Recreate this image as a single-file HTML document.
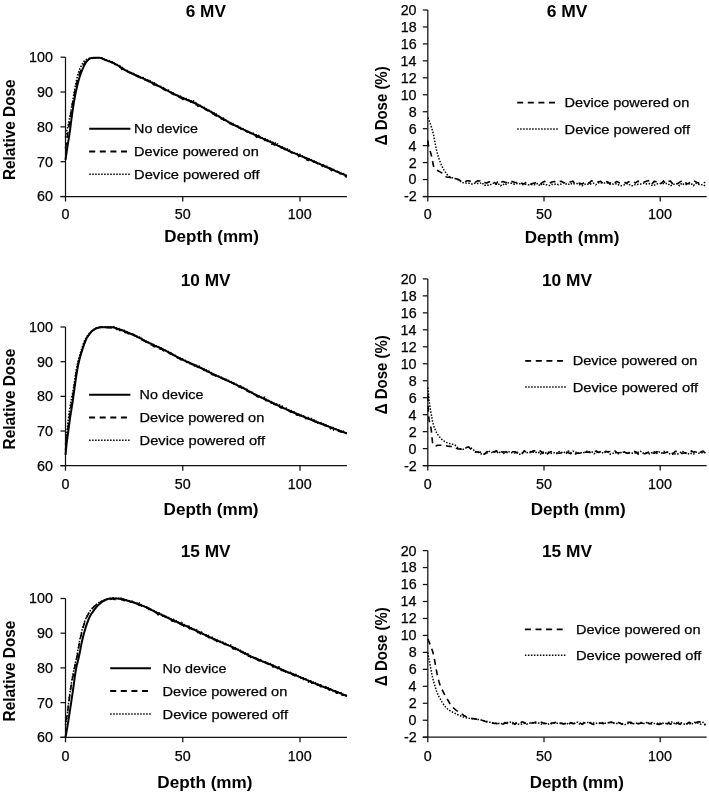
<!DOCTYPE html>
<html><head><meta charset="utf-8"><style>
html,body{margin:0;padding:0;background:#fff;}
svg{display:block;filter:grayscale(100%) blur(0.3px);}
text{font-family:"Liberation Sans", sans-serif;}
</style></head><body>
<svg width="709" height="794" viewBox="0 0 709 794">
<rect width="709" height="794" fill="#fff"/>
<line x1="65.50" y1="57.20" x2="65.50" y2="201.50" stroke="#111" stroke-width="1.25" />
<line x1="60.50" y1="196.50" x2="346.90" y2="196.50" stroke="#111" stroke-width="1.25" />
<line x1="60.50" y1="196.50" x2="65.50" y2="196.50" stroke="#111" stroke-width="1.25" />
<text x="36.96" y="201.42" font-size="14.3" font-weight="normal" textLength="15.91" lengthAdjust="spacingAndGlyphs" fill="#000" stroke="#000" stroke-width="0.25">60</text>
<line x1="60.50" y1="161.68" x2="65.50" y2="161.68" stroke="#111" stroke-width="1.25" />
<text x="36.96" y="166.59" font-size="14.3" font-weight="normal" textLength="15.91" lengthAdjust="spacingAndGlyphs" fill="#000" stroke="#000" stroke-width="0.25">70</text>
<line x1="60.50" y1="126.85" x2="65.50" y2="126.85" stroke="#111" stroke-width="1.25" />
<text x="36.96" y="131.77" font-size="14.3" font-weight="normal" textLength="15.91" lengthAdjust="spacingAndGlyphs" fill="#000" stroke="#000" stroke-width="0.25">80</text>
<line x1="60.50" y1="92.02" x2="65.50" y2="92.02" stroke="#111" stroke-width="1.25" />
<text x="36.96" y="96.94" font-size="14.3" font-weight="normal" textLength="15.91" lengthAdjust="spacingAndGlyphs" fill="#000" stroke="#000" stroke-width="0.25">90</text>
<line x1="60.50" y1="57.20" x2="65.50" y2="57.20" stroke="#111" stroke-width="1.25" />
<text x="29.01" y="62.12" font-size="14.3" font-weight="normal" textLength="23.86" lengthAdjust="spacingAndGlyphs" fill="#000" stroke="#000" stroke-width="0.25">100</text>
<line x1="182.75" y1="196.50" x2="182.75" y2="201.50" stroke="#111" stroke-width="1.25" />
<line x1="300.00" y1="196.50" x2="300.00" y2="201.50" stroke="#111" stroke-width="1.25" />
<text x="61.52" y="218.90" font-size="14.3" font-weight="normal" textLength="7.95" lengthAdjust="spacingAndGlyphs" fill="#000" stroke="#000" stroke-width="0.25">0</text>
<text x="174.79" y="218.90" font-size="14.3" font-weight="normal" textLength="15.91" lengthAdjust="spacingAndGlyphs" fill="#000" stroke="#000" stroke-width="0.25">50</text>
<text x="287.81" y="218.90" font-size="14.3" font-weight="normal" textLength="23.86" lengthAdjust="spacingAndGlyphs" fill="#000" stroke="#000" stroke-width="0.25">100</text>
<path d="M65.50,159.93 L66.67,151.78 L67.84,143.97 L69.02,137.14 L70.19,128.76 L71.36,119.66 L72.53,111.30 L73.71,103.55 L74.88,96.84 L76.05,90.98 L77.22,85.78 L78.40,81.12 L79.57,77.07 L80.74,73.64 L81.92,70.68 L83.09,67.97 L84.26,65.41 L85.43,63.28 L86.61,61.57 L87.78,60.20 L88.95,59.17 L90.12,58.40 L91.30,58.12 L92.47,57.94 L93.64,57.82 L94.81,57.74 L95.98,57.72 L97.16,57.73 L98.33,57.76 L99.50,57.81 L100.68,57.88 L101.85,58.19 L103.02,58.88 L104.19,59.42 L105.37,59.93 L106.54,60.41 L107.71,60.86 L108.88,61.26 L110.06,61.61 L111.23,61.99 L112.40,62.46 L113.57,63.02 L114.75,63.63 L115.92,64.30 L117.09,65.01 L118.26,65.75 L119.44,66.51 L120.61,67.28 L121.78,68.05 L122.95,68.81 L124.12,69.54 L125.30,70.23 L126.47,70.89 L127.64,71.49 L128.81,72.06 L129.99,72.62 L131.16,73.17 L132.33,73.70 L133.50,74.22 L134.68,74.74 L135.85,75.25 L137.02,75.75 L138.19,76.26 L139.37,76.77 L140.54,77.29 L141.71,77.82 L142.88,78.35 L144.06,78.90 L145.23,79.46 L146.40,80.03 L147.57,80.60 L148.75,81.17 L149.92,81.75 L151.09,82.33 L152.26,82.91 L153.44,83.50 L154.61,84.08 L155.78,84.67 L156.96,85.26 L158.13,85.85 L159.30,86.44 L160.47,87.03 L161.65,87.62 L162.82,88.22 L163.99,88.83 L165.16,89.43 L166.34,90.05 L167.51,90.66 L168.68,91.27 L169.85,91.88 L171.03,92.49 L172.20,93.09 L173.37,93.68 L174.54,94.27 L175.72,94.85 L176.89,95.41 L178.06,95.97 L179.23,96.50 L180.41,97.02 L181.58,97.53 L182.75,98.03 L183.92,98.52 L185.10,99.00 L186.27,99.49 L187.44,99.97 L188.61,100.46 L189.79,100.95 L190.96,101.46 L192.13,101.98 L193.30,102.51 L194.48,103.06 L195.65,103.62 L196.82,104.21 L197.99,104.81 L199.17,105.42 L200.34,106.04 L201.51,106.67 L202.68,107.31 L203.86,107.95 L205.03,108.60 L206.20,109.25 L207.37,109.91 L208.55,110.57 L209.72,111.22 L210.89,111.88 L212.06,112.53 L213.24,113.20 L214.41,113.88 L215.58,114.56 L216.75,115.25 L217.93,115.95 L219.10,116.64 L220.27,117.34 L221.44,118.03 L222.62,118.72 L223.79,119.40 L224.96,120.08 L226.13,120.74 L227.31,121.40 L228.48,122.04 L229.65,122.67 L230.82,123.29 L232.00,123.90 L233.17,124.50 L234.34,125.09 L235.51,125.67 L236.69,126.26 L237.86,126.83 L239.03,127.40 L240.20,127.97 L241.38,128.53 L242.55,129.09 L243.72,129.65 L244.89,130.20 L246.07,130.76 L247.24,131.31 L248.41,131.87 L249.58,132.42 L250.76,132.98 L251.93,133.52 L253.10,134.07 L254.27,134.61 L255.45,135.15 L256.62,135.68 L257.79,136.22 L258.96,136.75 L260.13,137.28 L261.31,137.81 L262.48,138.35 L263.65,138.88 L264.83,139.42 L266.00,139.95 L267.17,140.49 L268.34,141.04 L269.51,141.59 L270.69,142.14 L271.86,142.70 L273.03,143.26 L274.21,143.83 L275.38,144.40 L276.55,144.97 L277.72,145.54 L278.89,146.11 L280.07,146.68 L281.24,147.25 L282.41,147.81 L283.59,148.37 L284.76,148.93 L285.93,149.48 L287.10,150.03 L288.27,150.56 L289.45,151.09 L290.62,151.61 L291.79,152.12 L292.97,152.63 L294.14,153.13 L295.31,153.63 L296.48,154.12 L297.66,154.62 L298.83,155.10 L300.00,155.59 L301.17,156.08 L302.35,156.57 L303.52,157.06 L304.69,157.55 L305.86,158.04 L307.04,158.54 L308.21,159.04 L309.38,159.54 L310.55,160.05 L311.73,160.55 L312.90,161.06 L314.07,161.57 L315.24,162.09 L316.42,162.60 L317.59,163.11 L318.76,163.62 L319.93,164.14 L321.11,164.65 L322.28,165.17 L323.45,165.68 L324.62,166.20 L325.80,166.71 L326.97,167.22 L328.14,167.74 L329.31,168.25 L330.49,168.76 L331.66,169.28 L332.83,169.79 L334.00,170.30 L335.18,170.82 L336.35,171.33 L337.52,171.84 L338.69,172.36 L339.87,172.87 L341.04,173.38 L342.21,173.90 L343.38,174.41 L344.56,174.93 L345.73,175.44 L346.90,175.95" fill="none" stroke="#000" stroke-width="2.0" stroke-linejoin="round"/>
<path d="M65.50,148.44 L66.67,140.59 L67.84,132.92 L69.02,125.32 L70.19,117.63 L71.36,110.33 L72.53,103.47 L73.71,97.21 L74.88,91.47 L76.05,86.10 L77.22,81.18 L78.40,76.87 L79.57,73.16 L80.74,70.25 L81.92,67.83 L83.09,65.67 L84.26,63.69 L85.43,62.08 L86.61,60.79 L87.78,59.74 L88.95,59.05 L90.12,58.52 L91.30,58.16 L92.47,57.98 L93.64,57.85 L94.81,57.78 L95.98,57.77 L97.16,57.81 L98.33,57.86 L99.50,57.94 L100.68,58.03 L101.85,58.37 L103.02,59.02 L104.19,59.59 L105.37,60.16 L106.54,60.65 L107.71,61.19 L108.88,61.43 L110.06,62.19 L111.23,62.46 L112.40,62.80 L113.57,62.92 L114.75,64.32 L115.92,65.14 L117.09,65.72 L118.26,65.87 L119.44,67.11 L120.61,67.20 L121.78,69.43 L122.95,68.75 L124.12,69.50 L125.30,71.48 L126.47,71.30 L127.64,71.35 L128.81,72.52 L129.99,72.60 L131.16,72.43 L132.33,74.06 L133.50,74.87 L134.68,75.64 L135.85,75.41 L137.02,76.36 L138.19,76.85 L139.37,77.33 L140.54,77.45 L141.71,78.87 L142.88,79.65 L144.06,80.67 L145.23,79.34 L146.40,80.49 L147.57,80.31 L148.75,81.67 L149.92,82.63 L151.09,82.58 L152.26,83.45 L153.44,84.65 L154.61,85.05 L155.78,84.25 L156.96,85.58 L158.13,86.14 L159.30,87.09 L160.47,87.89 L161.65,87.66 L162.82,88.78 L163.99,89.72 L165.16,90.00 L166.34,91.02 L167.51,91.06 L168.68,91.18 L169.85,92.82 L171.03,92.24 L172.20,93.94 L173.37,94.10 L174.54,95.21 L175.72,95.46 L176.89,95.89 L178.06,96.69 L179.23,97.37 L180.41,97.88 L181.58,98.46 L182.75,99.35 L183.92,99.15 L185.10,99.29 L186.27,99.51 L187.44,100.13 L188.61,99.68 L189.79,101.29 L190.96,102.20 L192.13,101.50 L193.30,103.55 L194.48,103.05 L195.65,104.62 L196.82,104.52 L197.99,106.33 L199.17,105.45 L200.34,106.62 L201.51,107.67 L202.68,106.93 L203.86,108.05 L205.03,109.08 L206.20,110.14 L207.37,110.43 L208.55,111.15 L209.72,111.34 L210.89,111.96 L212.06,113.38 L213.24,113.99 L214.41,114.66 L215.58,115.77 L216.75,116.06 L217.93,116.49 L219.10,116.78 L220.27,117.15 L221.44,118.95 L222.62,118.93 L223.79,120.13 L224.96,119.49 L226.13,121.27 L227.31,121.64 L228.48,123.03 L229.65,123.59 L230.82,123.68 L232.00,124.60 L233.17,124.81 L234.34,126.40 L235.51,125.83 L236.69,127.22 L237.86,126.43 L239.03,128.05 L240.20,127.89 L241.38,129.76 L242.55,129.37 L243.72,130.61 L244.89,130.96 L246.07,131.25 L247.24,131.98 L248.41,132.23 L249.58,132.53 L250.76,133.13 L251.93,134.07 L253.10,135.28 L254.27,135.53 L255.45,135.75 L256.62,137.29 L257.79,136.32 L258.96,137.38 L260.13,137.91 L261.31,137.82 L262.48,138.50 L263.65,139.27 L264.83,140.44 L266.00,140.29 L267.17,140.81 L268.34,142.00 L269.51,141.54 L270.69,142.37 L271.86,144.23 L273.03,143.70 L274.21,144.99 L275.38,144.30 L276.55,145.05 L277.72,146.62 L278.89,147.07 L280.07,147.13 L281.24,147.87 L282.41,147.52 L283.59,148.49 L284.76,149.58 L285.93,149.68 L287.10,151.59 L288.27,150.90 L289.45,151.14 L290.62,152.20 L291.79,152.99 L292.97,152.83 L294.14,152.61 L295.31,154.02 L296.48,155.21 L297.66,154.36 L298.83,156.59 L300.00,155.83 L301.17,156.88 L302.35,156.58 L303.52,158.00 L304.69,157.35 L305.86,158.38 L307.04,159.94 L308.21,160.57 L309.38,160.21 L310.55,159.87 L311.73,160.99 L312.90,161.53 L314.07,162.20 L315.24,162.20 L316.42,162.90 L317.59,163.46 L318.76,164.64 L319.93,164.02 L321.11,164.44 L322.28,166.35 L323.45,164.98 L324.62,166.32 L325.80,167.47 L326.97,168.72 L328.14,167.90 L329.31,168.46 L330.49,169.58 L331.66,170.71 L332.83,169.70 L334.00,171.11 L335.18,171.56 L336.35,170.34 L337.52,171.23 L338.69,172.36 L339.87,173.61 L341.04,173.54 L342.21,175.59 L343.38,174.86 L344.56,175.82 L345.73,176.61 L346.90,177.28" fill="none" stroke="#000" stroke-width="1.6" stroke-dasharray="6 4.6" stroke-linejoin="round"/>
<path d="M65.50,137.30 L66.67,131.42 L67.84,126.38 L69.02,121.12 L70.19,115.05 L71.36,108.59 L72.53,101.78 L73.71,94.93 L74.88,88.41 L76.05,82.20 L77.22,76.94 L78.40,72.54 L79.57,69.37 L80.74,66.88 L81.92,64.70 L83.09,62.60 L84.26,60.95 L85.43,60.03 L86.61,59.41 L87.78,58.94 L88.95,58.49 L90.12,58.10 L91.30,57.90 L92.47,57.82 L93.64,57.77 L94.81,57.71 L95.98,57.67 L97.16,57.66 L98.33,57.66 L99.50,57.69 L100.68,57.73 L101.85,58.03 L103.02,58.63 L104.19,59.15 L105.37,59.67 L106.54,60.05 L107.71,61.00 L108.88,60.75 L110.06,61.46 L111.23,62.00 L112.40,61.99 L113.57,62.39 L114.75,63.32 L115.92,64.19 L117.09,64.50 L118.26,65.27 L119.44,65.43 L120.61,66.45 L121.78,67.46 L122.95,67.76 L124.12,69.15 L125.30,70.22 L126.47,70.08 L127.64,70.68 L128.81,71.68 L129.99,72.53 L131.16,72.55 L132.33,74.50 L133.50,73.36 L134.68,73.98 L135.85,75.60 L137.02,75.22 L138.19,76.26 L139.37,75.88 L140.54,77.85 L141.71,77.79 L142.88,77.48 L144.06,77.80 L145.23,80.09 L146.40,79.79 L147.57,79.92 L148.75,80.99 L149.92,80.42 L151.09,82.45 L152.26,82.23 L153.44,83.54 L154.61,82.85 L155.78,84.18 L156.96,84.96 L158.13,86.25 L159.30,85.06 L160.47,86.14 L161.65,86.73 L162.82,87.13 L163.99,88.14 L165.16,89.27 L166.34,89.96 L167.51,90.58 L168.68,90.05 L169.85,92.14 L171.03,92.30 L172.20,92.76 L173.37,93.07 L174.54,93.47 L175.72,95.00 L176.89,95.82 L178.06,95.47 L179.23,95.37 L180.41,96.13 L181.58,96.92 L182.75,97.69 L183.92,97.86 L185.10,98.63 L186.27,98.56 L187.44,99.89 L188.61,99.89 L189.79,100.51 L190.96,100.68 L192.13,101.36 L193.30,100.68 L194.48,101.77 L195.65,102.34 L196.82,104.77 L197.99,104.48 L199.17,105.23 L200.34,105.26 L201.51,107.36 L202.68,106.19 L203.86,106.89 L205.03,108.78 L206.20,109.27 L207.37,109.83 L208.55,110.04 L209.72,110.39 L210.89,110.31 L212.06,112.14 L213.24,112.30 L214.41,113.30 L215.58,113.14 L216.75,114.36 L217.93,114.73 L219.10,116.70 L220.27,116.94 L221.44,117.95 L222.62,117.43 L223.79,118.56 L224.96,119.74 L226.13,120.48 L227.31,120.65 L228.48,121.91 L229.65,122.66 L230.82,122.54 L232.00,122.11 L233.17,124.12 L234.34,124.88 L235.51,125.79 L236.69,126.45 L237.86,126.06 L239.03,126.46 L240.20,127.46 L241.38,127.86 L242.55,128.53 L243.72,129.07 L244.89,130.50 L246.07,130.50 L247.24,130.75 L248.41,131.78 L249.58,132.17 L250.76,132.90 L251.93,133.20 L253.10,133.12 L254.27,134.32 L255.45,134.73 L256.62,134.76 L257.79,135.38 L258.96,135.36 L260.13,137.87 L261.31,136.87 L262.48,138.10 L263.65,138.31 L264.83,138.48 L266.00,138.89 L267.17,139.45 L268.34,140.46 L269.51,140.25 L270.69,141.79 L271.86,142.27 L273.03,142.34 L274.21,143.62 L275.38,142.77 L276.55,143.94 L277.72,143.90 L278.89,145.62 L280.07,146.38 L281.24,146.66 L282.41,146.93 L283.59,148.18 L284.76,148.23 L285.93,148.99 L287.10,148.68 L288.27,150.41 L289.45,150.04 L290.62,151.45 L291.79,152.12 L292.97,152.50 L294.14,153.25 L295.31,153.05 L296.48,153.09 L297.66,154.03 L298.83,154.28 L300.00,154.24 L301.17,155.44 L302.35,155.97 L303.52,156.70 L304.69,157.89 L305.86,157.14 L307.04,158.95 L308.21,158.19 L309.38,159.05 L310.55,158.96 L311.73,160.09 L312.90,160.99 L314.07,160.89 L315.24,161.88 L316.42,162.19 L317.59,162.59 L318.76,163.19 L319.93,163.74 L321.11,164.59 L322.28,164.77 L323.45,166.30 L324.62,165.78 L325.80,166.84 L326.97,166.14 L328.14,166.57 L329.31,168.77 L330.49,168.19 L331.66,168.84 L332.83,169.84 L334.00,169.53 L335.18,170.56 L336.35,171.75 L337.52,171.48 L338.69,171.93 L339.87,172.31 L341.04,173.53 L342.21,173.08 L343.38,173.53 L344.56,175.02 L345.73,175.28 L346.90,175.50" fill="none" stroke="#000" stroke-width="1.5" stroke-dasharray="1.5 1.5" stroke-linejoin="round"/>
<text x="185.66" y="17.30" font-size="15.6" font-weight="bold" textLength="40.26" lengthAdjust="spacingAndGlyphs" fill="#000">6 MV</text>
<text transform="translate(14.90,180.03) rotate(-90)" x="0" y="0" font-size="15.6" font-weight="bold" textLength="100.66" lengthAdjust="spacingAndGlyphs">Relative Dose</text>
<text x="164.26" y="241.60" font-size="15.6" font-weight="bold" textLength="94.60" lengthAdjust="spacingAndGlyphs" fill="#000">Depth (mm)</text>
<line x1="89.20" y1="128.70" x2="130.40" y2="128.70" stroke="#000" stroke-width="2.0" />
<text x="134.12" y="133.34" font-size="13.5" font-weight="normal" textLength="63.81" lengthAdjust="spacingAndGlyphs" fill="#000" stroke="#000" stroke-width="0.25">No device</text>
<line x1="89.20" y1="151.50" x2="130.40" y2="151.50" stroke="#000" stroke-width="1.8" stroke-dasharray="6 4.6"/>
<text x="134.11" y="156.14" font-size="13.5" font-weight="normal" textLength="124.65" lengthAdjust="spacingAndGlyphs" fill="#000" stroke="#000" stroke-width="0.25">Device powered on</text>
<line x1="89.20" y1="174.30" x2="130.40" y2="174.30" stroke="#000" stroke-width="1.5" stroke-dasharray="1.5 1.5"/>
<text x="134.10" y="178.94" font-size="13.5" font-weight="normal" textLength="125.39" lengthAdjust="spacingAndGlyphs" fill="#000" stroke="#000" stroke-width="0.25">Device powered off</text>
<line x1="65.50" y1="327.00" x2="65.50" y2="470.70" stroke="#111" stroke-width="1.25" />
<line x1="60.50" y1="465.70" x2="346.90" y2="465.70" stroke="#111" stroke-width="1.25" />
<line x1="60.50" y1="465.70" x2="65.50" y2="465.70" stroke="#111" stroke-width="1.25" />
<text x="36.96" y="470.62" font-size="14.3" font-weight="normal" textLength="15.91" lengthAdjust="spacingAndGlyphs" fill="#000" stroke="#000" stroke-width="0.25">60</text>
<line x1="60.50" y1="431.02" x2="65.50" y2="431.02" stroke="#111" stroke-width="1.25" />
<text x="36.96" y="435.94" font-size="14.3" font-weight="normal" textLength="15.91" lengthAdjust="spacingAndGlyphs" fill="#000" stroke="#000" stroke-width="0.25">70</text>
<line x1="60.50" y1="396.35" x2="65.50" y2="396.35" stroke="#111" stroke-width="1.25" />
<text x="36.96" y="401.27" font-size="14.3" font-weight="normal" textLength="15.91" lengthAdjust="spacingAndGlyphs" fill="#000" stroke="#000" stroke-width="0.25">80</text>
<line x1="60.50" y1="361.68" x2="65.50" y2="361.68" stroke="#111" stroke-width="1.25" />
<text x="36.96" y="366.59" font-size="14.3" font-weight="normal" textLength="15.91" lengthAdjust="spacingAndGlyphs" fill="#000" stroke="#000" stroke-width="0.25">90</text>
<line x1="60.50" y1="327.00" x2="65.50" y2="327.00" stroke="#111" stroke-width="1.25" />
<text x="29.01" y="331.92" font-size="14.3" font-weight="normal" textLength="23.86" lengthAdjust="spacingAndGlyphs" fill="#000" stroke="#000" stroke-width="0.25">100</text>
<line x1="182.75" y1="465.70" x2="182.75" y2="470.70" stroke="#111" stroke-width="1.25" />
<line x1="300.00" y1="465.70" x2="300.00" y2="470.70" stroke="#111" stroke-width="1.25" />
<text x="61.52" y="489.30" font-size="14.3" font-weight="normal" textLength="7.95" lengthAdjust="spacingAndGlyphs" fill="#000" stroke="#000" stroke-width="0.25">0</text>
<text x="174.79" y="489.30" font-size="14.3" font-weight="normal" textLength="15.91" lengthAdjust="spacingAndGlyphs" fill="#000" stroke="#000" stroke-width="0.25">50</text>
<text x="287.81" y="489.30" font-size="14.3" font-weight="normal" textLength="23.86" lengthAdjust="spacingAndGlyphs" fill="#000" stroke="#000" stroke-width="0.25">100</text>
<path d="M65.50,454.95 L66.67,442.98 L67.84,434.50 L69.02,425.52 L70.19,417.06 L71.36,409.84 L72.53,402.59 L73.71,394.17 L74.88,385.72 L76.05,377.46 L77.22,370.17 L78.40,363.91 L79.57,358.95 L80.74,354.80 L81.92,351.05 L83.09,347.34 L84.26,343.68 L85.43,340.70 L86.61,338.34 L87.78,336.35 L88.95,334.68 L90.12,333.19 L91.30,331.89 L92.47,330.80 L93.64,329.88 L94.81,329.06 L95.98,328.41 L97.16,327.97 L98.33,327.64 L99.50,327.38 L100.68,327.23 L101.85,327.20 L103.02,327.18 L104.19,327.18 L105.37,327.17 L106.54,327.18 L107.71,327.20 L108.88,327.22 L110.06,327.26 L111.23,327.30 L112.40,327.36 L113.57,327.53 L114.75,327.83 L115.92,328.21 L117.09,328.60 L118.26,328.98 L119.44,329.36 L120.61,329.77 L121.78,330.19 L122.95,330.63 L124.12,331.08 L125.30,331.53 L126.47,332.00 L127.64,332.49 L128.81,332.98 L129.99,333.49 L131.16,334.00 L132.33,334.52 L133.50,335.05 L134.68,335.60 L135.85,336.15 L137.02,336.71 L138.19,337.28 L139.37,337.87 L140.54,338.48 L141.71,339.11 L142.88,339.76 L144.06,340.41 L145.23,341.05 L146.40,341.67 L147.57,342.26 L148.75,342.83 L149.92,343.39 L151.09,343.94 L152.26,344.48 L153.44,345.01 L154.61,345.54 L155.78,346.07 L156.96,346.59 L158.13,347.12 L159.30,347.66 L160.47,348.20 L161.65,348.75 L162.82,349.31 L163.99,349.89 L165.16,350.48 L166.34,351.09 L167.51,351.71 L168.68,352.34 L169.85,352.98 L171.03,353.63 L172.20,354.28 L173.37,354.93 L174.54,355.58 L175.72,356.22 L176.89,356.85 L178.06,357.47 L179.23,358.08 L180.41,358.67 L181.58,359.24 L182.75,359.80 L183.92,360.35 L185.10,360.88 L186.27,361.41 L187.44,361.93 L188.61,362.45 L189.79,362.96 L190.96,363.47 L192.13,363.98 L193.30,364.50 L194.48,365.02 L195.65,365.55 L196.82,366.09 L197.99,366.64 L199.17,367.20 L200.34,367.77 L201.51,368.34 L202.68,368.93 L203.86,369.51 L205.03,370.10 L206.20,370.69 L207.37,371.28 L208.55,371.87 L209.72,372.46 L210.89,373.04 L212.06,373.61 L213.24,374.18 L214.41,374.74 L215.58,375.29 L216.75,375.83 L217.93,376.37 L219.10,376.89 L220.27,377.42 L221.44,377.94 L222.62,378.46 L223.79,378.97 L224.96,379.49 L226.13,380.02 L227.31,380.54 L228.48,381.07 L229.65,381.61 L230.82,382.15 L232.00,382.70 L233.17,383.26 L234.34,383.82 L235.51,384.39 L236.69,384.96 L237.86,385.54 L239.03,386.12 L240.20,386.70 L241.38,387.29 L242.55,387.88 L243.72,388.47 L244.89,389.07 L246.07,389.67 L247.24,390.29 L248.41,390.91 L249.58,391.53 L250.76,392.16 L251.93,392.78 L253.10,393.40 L254.27,394.02 L255.45,394.62 L256.62,395.21 L257.79,395.79 L258.96,396.37 L260.13,396.95 L261.31,397.52 L262.48,398.09 L263.65,398.66 L264.83,399.22 L266.00,399.78 L267.17,400.34 L268.34,400.90 L269.51,401.46 L270.69,402.02 L271.86,402.58 L273.03,403.14 L274.21,403.70 L275.38,404.27 L276.55,404.83 L277.72,405.39 L278.89,405.95 L280.07,406.50 L281.24,407.05 L282.41,407.60 L283.59,408.14 L284.76,408.68 L285.93,409.21 L287.10,409.74 L288.27,410.25 L289.45,410.77 L290.62,411.28 L291.79,411.78 L292.97,412.29 L294.14,412.78 L295.31,413.28 L296.48,413.77 L297.66,414.26 L298.83,414.75 L300.00,415.24 L301.17,415.73 L302.35,416.21 L303.52,416.70 L304.69,417.18 L305.86,417.66 L307.04,418.14 L308.21,418.61 L309.38,419.09 L310.55,419.56 L311.73,420.03 L312.90,420.50 L314.07,420.97 L315.24,421.43 L316.42,421.90 L317.59,422.36 L318.76,422.81 L319.93,423.27 L321.11,423.72 L322.28,424.17 L323.45,424.62 L324.62,425.06 L325.80,425.51 L326.97,425.95 L328.14,426.39 L329.31,426.83 L330.49,427.28 L331.66,427.72 L332.83,428.16 L334.00,428.61 L335.18,429.05 L336.35,429.49 L337.52,429.93 L338.69,430.37 L339.87,430.82 L341.04,431.26 L342.21,431.70 L343.38,432.14 L344.56,432.58 L345.73,433.01 L346.90,433.45" fill="none" stroke="#000" stroke-width="2.0" stroke-linejoin="round"/>
<path d="M65.50,450.10 L66.67,439.29 L67.84,428.71 L69.02,419.62 L70.19,411.54 L71.36,404.21 L72.53,397.47 L73.71,389.97 L74.88,381.94 L76.05,374.16 L77.22,367.22 L78.40,362.07 L79.57,357.74 L80.74,353.82 L81.92,350.27 L83.09,347.03 L84.26,344.02 L85.43,341.23 L86.61,338.79 L87.78,336.66 L88.95,334.75 L90.12,333.17 L91.30,331.88 L92.47,330.72 L93.64,329.77 L94.81,329.11 L95.98,328.61 L97.16,328.16 L98.33,327.79 L99.50,327.52 L100.68,327.38 L101.85,327.37 L103.02,327.39 L104.19,327.43 L105.37,327.53 L106.54,327.51 L107.71,327.67 L108.88,327.79 L110.06,327.56 L111.23,327.94 L112.40,327.46 L113.57,327.75 L114.75,328.91 L115.92,328.59 L117.09,329.51 L118.26,329.47 L119.44,329.84 L120.61,331.14 L121.78,330.80 L122.95,331.26 L124.12,331.08 L125.30,332.65 L126.47,332.12 L127.64,333.56 L128.81,333.65 L129.99,334.42 L131.16,333.75 L132.33,334.73 L133.50,334.29 L134.68,335.76 L135.85,336.21 L137.02,336.77 L138.19,338.10 L139.37,338.40 L140.54,338.28 L141.71,339.82 L142.88,340.16 L144.06,340.92 L145.23,341.24 L146.40,342.36 L147.57,342.84 L148.75,343.21 L149.92,343.84 L151.09,344.89 L152.26,344.52 L153.44,346.19 L154.61,346.67 L155.78,347.24 L156.96,346.59 L158.13,347.81 L159.30,348.66 L160.47,349.29 L161.65,349.03 L162.82,350.36 L163.99,351.05 L165.16,350.66 L166.34,352.21 L167.51,352.38 L168.68,352.85 L169.85,353.72 L171.03,354.16 L172.20,354.08 L173.37,355.70 L174.54,356.73 L175.72,357.67 L176.89,357.46 L178.06,358.15 L179.23,358.44 L180.41,359.41 L181.58,359.99 L182.75,360.68 L183.92,361.12 L185.10,361.30 L186.27,362.11 L187.44,362.38 L188.61,361.96 L189.79,363.21 L190.96,364.79 L192.13,363.58 L193.30,364.82 L194.48,366.01 L195.65,365.58 L196.82,366.58 L197.99,367.46 L199.17,368.03 L200.34,368.79 L201.51,368.82 L202.68,368.87 L203.86,370.18 L205.03,370.38 L206.20,370.21 L207.37,372.41 L208.55,372.24 L209.72,373.11 L210.89,374.09 L212.06,374.65 L213.24,374.69 L214.41,375.02 L215.58,376.07 L216.75,376.30 L217.93,376.49 L219.10,377.24 L220.27,377.47 L221.44,378.20 L222.62,378.70 L223.79,378.52 L224.96,379.67 L226.13,380.45 L227.31,380.67 L228.48,382.05 L229.65,382.28 L230.82,382.24 L232.00,382.87 L233.17,382.95 L234.34,384.32 L235.51,385.65 L236.69,384.45 L237.86,385.47 L239.03,387.17 L240.20,386.49 L241.38,387.77 L242.55,389.32 L243.72,389.19 L244.89,389.83 L246.07,389.34 L247.24,391.20 L248.41,391.54 L249.58,392.18 L250.76,392.86 L251.93,393.76 L253.10,393.79 L254.27,393.96 L255.45,394.79 L256.62,396.19 L257.79,396.89 L258.96,396.81 L260.13,397.82 L261.31,398.35 L262.48,399.46 L263.65,398.14 L264.83,399.24 L266.00,400.79 L267.17,400.37 L268.34,400.70 L269.51,403.20 L270.69,402.81 L271.86,403.28 L273.03,403.31 L274.21,404.27 L275.38,404.89 L276.55,405.36 L277.72,404.92 L278.89,405.32 L280.07,407.27 L281.24,408.03 L282.41,406.70 L283.59,409.15 L284.76,409.48 L285.93,409.69 L287.10,409.98 L288.27,410.22 L289.45,411.07 L290.62,412.23 L291.79,412.02 L292.97,412.66 L294.14,412.31 L295.31,413.79 L296.48,414.97 L297.66,415.31 L298.83,414.50 L300.00,416.02 L301.17,417.32 L302.35,417.01 L303.52,417.20 L304.69,417.06 L305.86,418.69 L307.04,418.29 L308.21,418.70 L309.38,419.95 L310.55,420.16 L311.73,419.61 L312.90,420.11 L314.07,421.02 L315.24,421.76 L316.42,421.80 L317.59,422.93 L318.76,423.36 L319.93,424.22 L321.11,424.22 L322.28,424.71 L323.45,423.67 L324.62,425.66 L325.80,425.35 L326.97,425.76 L328.14,426.99 L329.31,426.73 L330.49,428.91 L331.66,428.17 L332.83,428.22 L334.00,430.35 L335.18,430.15 L336.35,429.44 L337.52,430.57 L338.69,431.45 L339.87,431.51 L341.04,432.04 L342.21,431.82 L343.38,432.40 L344.56,433.22 L345.73,433.86 L346.90,433.98" fill="none" stroke="#000" stroke-width="1.6" stroke-dasharray="6 4.6" stroke-linejoin="round"/>
<path d="M65.50,444.89 L66.67,434.56 L67.84,423.10 L69.02,413.29 L70.19,405.62 L71.36,398.89 L72.53,393.22 L73.71,386.93 L74.88,378.44 L76.05,370.75 L77.22,364.76 L78.40,359.81 L79.57,355.60 L80.74,351.79 L81.92,348.10 L83.09,344.35 L84.26,341.22 L85.43,338.90 L86.61,336.97 L87.78,335.32 L88.95,333.85 L90.12,332.53 L91.30,331.38 L92.47,330.43 L93.64,329.59 L94.81,328.83 L95.98,328.23 L97.16,327.83 L98.33,327.51 L99.50,327.24 L100.68,327.08 L101.85,327.02 L103.02,326.94 L104.19,326.96 L105.37,326.81 L106.54,326.97 L107.71,326.93 L108.88,327.02 L110.06,326.78 L111.23,326.92 L112.40,327.19 L113.57,326.54 L114.75,327.50 L115.92,327.77 L117.09,327.96 L118.26,327.80 L119.44,328.92 L120.61,328.95 L121.78,329.65 L122.95,330.85 L124.12,330.17 L125.30,330.50 L126.47,331.63 L127.64,332.00 L128.81,333.26 L129.99,333.78 L131.16,333.70 L132.33,333.70 L133.50,334.80 L134.68,334.94 L135.85,335.14 L137.02,336.16 L138.19,336.48 L139.37,336.61 L140.54,338.63 L141.71,338.23 L142.88,340.24 L144.06,339.69 L145.23,340.45 L146.40,341.45 L147.57,342.32 L148.75,342.37 L149.92,343.11 L151.09,343.39 L152.26,344.45 L153.44,344.23 L154.61,345.58 L155.78,345.73 L156.96,346.30 L158.13,345.96 L159.30,347.94 L160.47,347.91 L161.65,347.63 L162.82,349.15 L163.99,350.03 L165.16,349.83 L166.34,350.74 L167.51,350.78 L168.68,352.32 L169.85,352.39 L171.03,352.78 L172.20,353.24 L173.37,355.01 L174.54,354.34 L175.72,356.19 L176.89,357.14 L178.06,357.47 L179.23,357.50 L180.41,358.34 L181.58,358.51 L182.75,359.04 L183.92,359.68 L185.10,360.51 L186.27,359.97 L187.44,362.58 L188.61,362.85 L189.79,362.72 L190.96,363.62 L192.13,364.81 L193.30,364.42 L194.48,364.91 L195.65,366.33 L196.82,365.14 L197.99,365.46 L199.17,366.06 L200.34,367.53 L201.51,367.77 L202.68,369.01 L203.86,368.90 L205.03,369.95 L206.20,369.98 L207.37,370.96 L208.55,370.83 L209.72,371.53 L210.89,371.89 L212.06,373.95 L213.24,374.63 L214.41,374.03 L215.58,375.09 L216.75,375.13 L217.93,375.71 L219.10,376.30 L220.27,376.44 L221.44,377.15 L222.62,377.71 L223.79,378.94 L224.96,378.10 L226.13,379.45 L227.31,379.46 L228.48,380.40 L229.65,380.45 L230.82,381.57 L232.00,382.09 L233.17,382.69 L234.34,383.69 L235.51,384.19 L236.69,384.54 L237.86,385.10 L239.03,386.13 L240.20,384.98 L241.38,387.30 L242.55,387.54 L243.72,386.70 L244.89,388.91 L246.07,388.77 L247.24,389.44 L248.41,390.52 L249.58,391.78 L250.76,392.47 L251.93,392.29 L253.10,392.69 L254.27,394.64 L255.45,394.04 L256.62,395.05 L257.79,394.83 L258.96,395.78 L260.13,396.87 L261.31,397.24 L262.48,397.56 L263.65,397.45 L264.83,397.13 L266.00,399.09 L267.17,399.77 L268.34,400.03 L269.51,400.94 L270.69,401.15 L271.86,401.84 L273.03,402.60 L274.21,403.57 L275.38,403.64 L276.55,403.81 L277.72,404.80 L278.89,404.61 L280.07,405.46 L281.24,406.57 L282.41,406.14 L283.59,408.18 L284.76,407.52 L285.93,407.69 L287.10,409.31 L288.27,409.75 L289.45,409.73 L290.62,409.98 L291.79,411.00 L292.97,411.60 L294.14,411.75 L295.31,412.58 L296.48,413.84 L297.66,413.80 L298.83,414.20 L300.00,415.46 L301.17,414.96 L302.35,416.04 L303.52,415.75 L304.69,417.39 L305.86,417.57 L307.04,418.33 L308.21,417.39 L309.38,417.87 L310.55,418.24 L311.73,418.70 L312.90,419.47 L314.07,419.94 L315.24,421.76 L316.42,421.16 L317.59,422.06 L318.76,422.42 L319.93,423.35 L321.11,422.48 L322.28,423.53 L323.45,424.83 L324.62,424.24 L325.80,424.99 L326.97,425.94 L328.14,426.00 L329.31,426.70 L330.49,427.94 L331.66,427.99 L332.83,427.38 L334.00,427.91 L335.18,428.40 L336.35,429.60 L337.52,429.74 L338.69,429.84 L339.87,429.96 L341.04,431.19 L342.21,431.75 L343.38,431.04 L344.56,432.04 L345.73,432.71 L346.90,433.34" fill="none" stroke="#000" stroke-width="1.5" stroke-dasharray="1.5 1.5" stroke-linejoin="round"/>
<text x="180.71" y="285.60" font-size="15.6" font-weight="bold" textLength="49.81" lengthAdjust="spacingAndGlyphs" fill="#000">10 MV</text>
<text transform="translate(14.90,449.43) rotate(-90)" x="0" y="0" font-size="15.6" font-weight="bold" textLength="100.76" lengthAdjust="spacingAndGlyphs">Relative Dose</text>
<text x="163.55" y="515.30" font-size="15.6" font-weight="bold" textLength="95.00" lengthAdjust="spacingAndGlyphs" fill="#000">Depth (mm)</text>
<line x1="89.10" y1="394.70" x2="130.40" y2="394.70" stroke="#000" stroke-width="2.0" />
<text x="139.62" y="399.34" font-size="13.5" font-weight="normal" textLength="63.81" lengthAdjust="spacingAndGlyphs" fill="#000" stroke="#000" stroke-width="0.25">No device</text>
<line x1="89.10" y1="417.50" x2="130.40" y2="417.50" stroke="#000" stroke-width="1.8" stroke-dasharray="6 4.6"/>
<text x="139.61" y="422.14" font-size="13.5" font-weight="normal" textLength="124.65" lengthAdjust="spacingAndGlyphs" fill="#000" stroke="#000" stroke-width="0.25">Device powered on</text>
<line x1="89.10" y1="440.20" x2="130.40" y2="440.20" stroke="#000" stroke-width="1.5" stroke-dasharray="1.5 1.5"/>
<text x="139.60" y="444.84" font-size="13.5" font-weight="normal" textLength="125.39" lengthAdjust="spacingAndGlyphs" fill="#000" stroke="#000" stroke-width="0.25">Device powered off</text>
<line x1="65.50" y1="598.50" x2="65.50" y2="742.30" stroke="#111" stroke-width="1.25" />
<line x1="60.50" y1="737.30" x2="346.90" y2="737.30" stroke="#111" stroke-width="1.25" />
<line x1="60.50" y1="737.30" x2="65.50" y2="737.30" stroke="#111" stroke-width="1.25" />
<text x="36.96" y="742.22" font-size="14.3" font-weight="normal" textLength="15.91" lengthAdjust="spacingAndGlyphs" fill="#000" stroke="#000" stroke-width="0.25">60</text>
<line x1="60.50" y1="702.60" x2="65.50" y2="702.60" stroke="#111" stroke-width="1.25" />
<text x="36.96" y="707.52" font-size="14.3" font-weight="normal" textLength="15.91" lengthAdjust="spacingAndGlyphs" fill="#000" stroke="#000" stroke-width="0.25">70</text>
<line x1="60.50" y1="667.90" x2="65.50" y2="667.90" stroke="#111" stroke-width="1.25" />
<text x="36.96" y="672.82" font-size="14.3" font-weight="normal" textLength="15.91" lengthAdjust="spacingAndGlyphs" fill="#000" stroke="#000" stroke-width="0.25">80</text>
<line x1="60.50" y1="633.20" x2="65.50" y2="633.20" stroke="#111" stroke-width="1.25" />
<text x="36.96" y="638.12" font-size="14.3" font-weight="normal" textLength="15.91" lengthAdjust="spacingAndGlyphs" fill="#000" stroke="#000" stroke-width="0.25">90</text>
<line x1="60.50" y1="598.50" x2="65.50" y2="598.50" stroke="#111" stroke-width="1.25" />
<text x="29.01" y="603.42" font-size="14.3" font-weight="normal" textLength="23.86" lengthAdjust="spacingAndGlyphs" fill="#000" stroke="#000" stroke-width="0.25">100</text>
<line x1="182.75" y1="737.30" x2="182.75" y2="742.30" stroke="#111" stroke-width="1.25" />
<line x1="300.00" y1="737.30" x2="300.00" y2="742.30" stroke="#111" stroke-width="1.25" />
<text x="61.52" y="760.90" font-size="14.3" font-weight="normal" textLength="7.95" lengthAdjust="spacingAndGlyphs" fill="#000" stroke="#000" stroke-width="0.25">0</text>
<text x="174.79" y="760.90" font-size="14.3" font-weight="normal" textLength="15.91" lengthAdjust="spacingAndGlyphs" fill="#000" stroke="#000" stroke-width="0.25">50</text>
<text x="287.81" y="760.90" font-size="14.3" font-weight="normal" textLength="23.86" lengthAdjust="spacingAndGlyphs" fill="#000" stroke="#000" stroke-width="0.25">100</text>
<path d="M65.50,737.30 L66.67,730.91 L67.84,724.07 L69.02,716.67 L70.19,708.85 L71.36,701.09 L72.53,693.31 L73.71,685.12 L74.88,676.03 L76.05,668.74 L77.22,663.65 L78.40,659.05 L79.57,653.57 L80.74,647.35 L81.92,641.59 L83.09,636.75 L84.26,632.31 L85.43,628.28 L86.61,624.66 L87.78,621.33 L88.95,618.39 L90.12,616.00 L91.30,614.03 L92.47,612.29 L93.64,610.67 L94.81,609.09 L95.98,607.58 L97.16,606.20 L98.33,604.97 L99.50,603.89 L100.68,602.91 L101.85,602.02 L103.02,601.26 L104.19,600.61 L105.37,599.99 L106.54,599.43 L107.71,599.03 L108.88,598.82 L110.06,598.71 L111.23,598.62 L112.40,598.55 L113.57,598.51 L114.75,598.50 L115.92,598.52 L117.09,598.58 L118.26,598.66 L119.44,598.75 L120.61,598.86 L121.78,599.03 L122.95,599.30 L124.12,599.63 L125.30,599.98 L126.47,600.34 L127.64,600.68 L128.81,601.01 L129.99,601.36 L131.16,601.72 L132.33,602.08 L133.50,602.47 L134.68,602.87 L135.85,603.30 L137.02,603.74 L138.19,604.20 L139.37,604.65 L140.54,605.09 L141.71,605.51 L142.88,605.93 L144.06,606.39 L145.23,606.88 L146.40,607.41 L147.57,607.98 L148.75,608.56 L149.92,609.16 L151.09,609.77 L152.26,610.38 L153.44,610.98 L154.61,611.57 L155.78,612.15 L156.96,612.71 L158.13,613.27 L159.30,613.83 L160.47,614.39 L161.65,614.95 L162.82,615.50 L163.99,616.05 L165.16,616.60 L166.34,617.15 L167.51,617.70 L168.68,618.24 L169.85,618.78 L171.03,619.32 L172.20,619.86 L173.37,620.39 L174.54,620.92 L175.72,621.44 L176.89,621.96 L178.06,622.48 L179.23,623.00 L180.41,623.53 L181.58,624.05 L182.75,624.57 L183.92,625.09 L185.10,625.62 L186.27,626.15 L187.44,626.69 L188.61,627.23 L189.79,627.76 L190.96,628.31 L192.13,628.85 L193.30,629.39 L194.48,629.94 L195.65,630.48 L196.82,631.03 L197.99,631.57 L199.17,632.12 L200.34,632.67 L201.51,633.22 L202.68,633.77 L203.86,634.32 L205.03,634.88 L206.20,635.43 L207.37,635.99 L208.55,636.56 L209.72,637.12 L210.89,637.68 L212.06,638.23 L213.24,638.79 L214.41,639.33 L215.58,639.88 L216.75,640.41 L217.93,640.94 L219.10,641.45 L220.27,641.96 L221.44,642.45 L222.62,642.93 L223.79,643.42 L224.96,643.89 L226.13,644.38 L227.31,644.86 L228.48,645.35 L229.65,645.85 L230.82,646.36 L232.00,646.89 L233.17,647.43 L234.34,647.99 L235.51,648.59 L236.69,649.20 L237.86,649.81 L239.03,650.42 L240.20,651.02 L241.38,651.61 L242.55,652.21 L243.72,652.80 L244.89,653.40 L246.07,654.00 L247.24,654.60 L248.41,655.19 L249.58,655.77 L250.76,656.35 L251.93,656.91 L253.10,657.47 L254.27,658.01 L255.45,658.53 L256.62,659.04 L257.79,659.53 L258.96,660.01 L260.13,660.47 L261.31,660.93 L262.48,661.38 L263.65,661.82 L264.83,662.27 L266.00,662.72 L267.17,663.17 L268.34,663.63 L269.51,664.10 L270.69,664.58 L271.86,665.08 L273.03,665.58 L274.21,666.10 L275.38,666.63 L276.55,667.16 L277.72,667.70 L278.89,668.24 L280.07,668.78 L281.24,669.32 L282.41,669.85 L283.59,670.38 L284.76,670.90 L285.93,671.42 L287.10,671.92 L288.27,672.41 L289.45,672.89 L290.62,673.36 L291.79,673.84 L292.97,674.30 L294.14,674.77 L295.31,675.23 L296.48,675.69 L297.66,676.16 L298.83,676.63 L300.00,677.10 L301.17,677.58 L302.35,678.06 L303.52,678.55 L304.69,679.05 L305.86,679.55 L307.04,680.06 L308.21,680.57 L309.38,681.08 L310.55,681.59 L311.73,682.10 L312.90,682.60 L314.07,683.10 L315.24,683.59 L316.42,684.08 L317.59,684.56 L318.76,685.02 L319.93,685.48 L321.11,685.93 L322.28,686.38 L323.45,686.82 L324.62,687.26 L325.80,687.70 L326.97,688.14 L328.14,688.58 L329.31,689.02 L330.49,689.46 L331.66,689.91 L332.83,690.36 L334.00,690.82 L335.18,691.28 L336.35,691.75 L337.52,692.21 L338.69,692.68 L339.87,693.15 L341.04,693.62 L342.21,694.09 L343.38,694.57 L344.56,695.05 L345.73,695.53 L346.90,696.01" fill="none" stroke="#000" stroke-width="2.0" stroke-linejoin="round"/>
<path d="M65.50,721.68 L66.67,717.53 L67.84,710.14 L69.02,700.59 L70.19,692.23 L71.36,684.85 L72.53,678.24 L73.71,672.18 L74.88,666.59 L76.05,661.62 L77.22,656.19 L78.40,649.28 L79.57,642.36 L80.74,636.84 L81.92,631.91 L83.09,627.54 L84.26,623.71 L85.43,620.32 L86.61,617.49 L87.78,615.16 L88.95,613.11 L90.12,611.31 L91.30,609.75 L92.47,608.38 L93.64,607.14 L94.81,606.06 L95.98,605.09 L97.16,604.21 L98.33,603.41 L99.50,602.67 L100.68,602.02 L101.85,601.51 L103.02,600.96 L104.19,600.39 L105.37,600.17 L106.54,599.61 L107.71,599.31 L108.88,599.45 L110.06,599.59 L111.23,599.23 L112.40,598.59 L113.57,599.17 L114.75,599.46 L115.92,599.50 L117.09,599.13 L118.26,599.21 L119.44,598.91 L120.61,598.92 L121.78,599.96 L122.95,599.86 L124.12,600.70 L125.30,600.44 L126.47,601.44 L127.64,601.81 L128.81,600.41 L129.99,601.84 L131.16,601.88 L132.33,601.26 L133.50,602.56 L134.68,603.43 L135.85,603.77 L137.02,604.63 L138.19,604.13 L139.37,605.33 L140.54,604.67 L141.71,606.19 L142.88,606.62 L144.06,607.10 L145.23,607.06 L146.40,607.82 L147.57,607.76 L148.75,609.35 L149.92,609.51 L151.09,609.26 L152.26,611.00 L153.44,611.20 L154.61,611.26 L155.78,612.36 L156.96,613.54 L158.13,614.85 L159.30,613.09 L160.47,614.67 L161.65,614.79 L162.82,616.25 L163.99,615.61 L165.16,616.83 L166.34,617.62 L167.51,618.66 L168.68,618.55 L169.85,619.53 L171.03,619.94 L172.20,621.20 L173.37,621.14 L174.54,621.33 L175.72,622.59 L176.89,622.42 L178.06,622.64 L179.23,623.66 L180.41,624.35 L181.58,624.87 L182.75,624.58 L183.92,626.39 L185.10,626.28 L186.27,626.87 L187.44,627.11 L188.61,627.76 L189.79,628.84 L190.96,627.74 L192.13,629.26 L193.30,630.59 L194.48,630.90 L195.65,630.93 L196.82,631.21 L197.99,632.77 L199.17,632.25 L200.34,633.89 L201.51,634.13 L202.68,633.82 L203.86,633.93 L205.03,635.42 L206.20,636.10 L207.37,635.83 L208.55,637.61 L209.72,637.47 L210.89,638.06 L212.06,638.21 L213.24,639.13 L214.41,639.97 L215.58,640.06 L216.75,641.50 L217.93,641.01 L219.10,642.30 L220.27,642.93 L221.44,643.14 L222.62,643.41 L223.79,643.55 L224.96,644.51 L226.13,644.49 L227.31,644.85 L228.48,645.91 L229.65,646.86 L230.82,646.38 L232.00,647.24 L233.17,649.03 L234.34,649.01 L235.51,649.01 L236.69,650.41 L237.86,650.66 L239.03,651.81 L240.20,651.31 L241.38,651.98 L242.55,652.61 L243.72,652.55 L244.89,654.09 L246.07,654.65 L247.24,654.05 L248.41,656.37 L249.58,655.89 L250.76,657.53 L251.93,657.29 L253.10,656.87 L254.27,658.37 L255.45,659.43 L256.62,658.30 L257.79,660.31 L258.96,660.61 L260.13,660.81 L261.31,662.13 L262.48,661.30 L263.65,661.48 L264.83,662.38 L266.00,663.05 L267.17,663.75 L268.34,663.67 L269.51,666.24 L270.69,665.15 L271.86,665.44 L273.03,667.12 L274.21,666.38 L275.38,667.20 L276.55,667.68 L277.72,668.15 L278.89,668.44 L280.07,669.04 L281.24,670.36 L282.41,670.42 L283.59,670.98 L284.76,671.38 L285.93,672.22 L287.10,671.91 L288.27,672.23 L289.45,672.60 L290.62,672.87 L291.79,673.56 L292.97,675.04 L294.14,675.59 L295.31,675.94 L296.48,675.90 L297.66,676.73 L298.83,676.61 L300.00,676.74 L301.17,678.30 L302.35,678.05 L303.52,679.26 L304.69,680.21 L305.86,680.71 L307.04,680.73 L308.21,682.06 L309.38,681.32 L310.55,681.30 L311.73,683.20 L312.90,683.27 L314.07,682.80 L315.24,683.91 L316.42,684.48 L317.59,685.19 L318.76,684.99 L319.93,685.81 L321.11,687.00 L322.28,688.15 L323.45,688.72 L324.62,687.42 L325.80,688.34 L326.97,687.89 L328.14,688.81 L329.31,690.18 L330.49,689.81 L331.66,689.79 L332.83,691.33 L334.00,691.59 L335.18,690.88 L336.35,693.16 L337.52,693.28 L338.69,692.63 L339.87,693.55 L341.04,694.72 L342.21,695.35 L343.38,694.83 L344.56,694.92 L345.73,695.60 L346.90,696.29" fill="none" stroke="#000" stroke-width="1.6" stroke-dasharray="6 4.6" stroke-linejoin="round"/>
<path d="M65.50,725.15 L66.67,719.56 L67.84,709.69 L69.02,699.27 L70.19,690.77 L71.36,683.29 L72.53,676.57 L73.71,670.45 L74.88,665.04 L76.05,660.09 L77.22,654.26 L78.40,647.10 L79.57,640.62 L80.74,635.30 L81.92,630.54 L83.09,626.34 L84.26,622.65 L85.43,619.41 L86.61,616.76 L87.78,614.52 L88.95,612.54 L90.12,610.82 L91.30,609.32 L92.47,607.99 L93.64,606.79 L94.81,605.69 L95.98,604.71 L97.16,603.81 L98.33,602.99 L99.50,602.24 L100.68,601.57 L101.85,601.02 L103.02,600.58 L104.19,600.06 L105.37,599.76 L106.54,599.19 L107.71,598.95 L108.88,598.56 L110.06,598.36 L111.23,598.27 L112.40,598.09 L113.57,597.78 L114.75,598.14 L115.92,598.36 L117.09,598.48 L118.26,598.28 L119.44,598.58 L120.61,597.52 L121.78,599.07 L122.95,599.32 L124.12,599.27 L125.30,599.14 L126.47,599.98 L127.64,600.68 L128.81,600.93 L129.99,601.04 L131.16,600.71 L132.33,602.09 L133.50,602.01 L134.68,602.69 L135.85,602.63 L137.02,603.04 L138.19,604.46 L139.37,602.91 L140.54,604.49 L141.71,605.28 L142.88,605.90 L144.06,606.02 L145.23,606.37 L146.40,606.61 L147.57,607.47 L148.75,607.81 L149.92,609.50 L151.09,609.66 L152.26,610.40 L153.44,610.40 L154.61,610.83 L155.78,612.41 L156.96,612.30 L158.13,612.39 L159.30,612.86 L160.47,614.47 L161.65,614.15 L162.82,614.82 L163.99,615.78 L165.16,615.08 L166.34,617.23 L167.51,617.34 L168.68,617.50 L169.85,618.15 L171.03,618.91 L172.20,618.64 L173.37,619.14 L174.54,619.94 L175.72,620.42 L176.89,621.49 L178.06,622.59 L179.23,621.37 L180.41,623.52 L181.58,622.39 L182.75,624.14 L183.92,624.47 L185.10,625.21 L186.27,625.15 L187.44,626.45 L188.61,625.77 L189.79,626.99 L190.96,627.71 L192.13,628.64 L193.30,628.75 L194.48,629.44 L195.65,628.99 L196.82,630.04 L197.99,631.89 L199.17,630.83 L200.34,633.41 L201.51,631.92 L202.68,634.25 L203.86,633.82 L205.03,633.95 L206.20,634.94 L207.37,636.07 L208.55,635.41 L209.72,637.54 L210.89,637.94 L212.06,637.01 L213.24,638.74 L214.41,638.71 L215.58,638.95 L216.75,639.97 L217.93,640.29 L219.10,640.89 L220.27,641.34 L221.44,641.33 L222.62,641.95 L223.79,642.75 L224.96,642.92 L226.13,644.16 L227.31,644.76 L228.48,645.37 L229.65,644.94 L230.82,645.01 L232.00,646.34 L233.17,647.96 L234.34,647.76 L235.51,647.84 L236.69,648.54 L237.86,649.26 L239.03,649.40 L240.20,650.03 L241.38,651.81 L242.55,651.48 L243.72,652.69 L244.89,652.78 L246.07,652.86 L247.24,653.14 L248.41,654.32 L249.58,655.54 L250.76,656.03 L251.93,656.14 L253.10,657.48 L254.27,657.54 L255.45,657.72 L256.62,658.06 L257.79,659.18 L258.96,659.31 L260.13,659.26 L261.31,660.27 L262.48,661.77 L263.65,661.21 L264.83,661.64 L266.00,662.44 L267.17,662.65 L268.34,663.90 L269.51,662.95 L270.69,663.86 L271.86,664.86 L273.03,664.96 L274.21,665.53 L275.38,666.58 L276.55,668.05 L277.72,668.68 L278.89,666.69 L280.07,668.86 L281.24,668.97 L282.41,669.06 L283.59,670.07 L284.76,669.78 L285.93,671.41 L287.10,671.12 L288.27,672.99 L289.45,672.02 L290.62,672.51 L291.79,673.14 L292.97,673.65 L294.14,674.13 L295.31,674.28 L296.48,674.69 L297.66,676.15 L298.83,675.58 L300.00,677.09 L301.17,676.99 L302.35,677.69 L303.52,677.80 L304.69,678.72 L305.86,678.84 L307.04,679.81 L308.21,680.57 L309.38,680.02 L310.55,680.79 L311.73,681.33 L312.90,681.60 L314.07,683.15 L315.24,682.62 L316.42,684.13 L317.59,683.86 L318.76,684.62 L319.93,684.84 L321.11,685.07 L322.28,685.87 L323.45,686.80 L324.62,686.28 L325.80,686.59 L326.97,687.28 L328.14,687.54 L329.31,689.44 L330.49,688.92 L331.66,689.47 L332.83,690.88 L334.00,690.27 L335.18,690.78 L336.35,692.03 L337.52,692.15 L338.69,692.14 L339.87,692.34 L341.04,692.75 L342.21,694.17 L343.38,694.63 L344.56,694.81 L345.73,695.05 L346.90,695.81" fill="none" stroke="#000" stroke-width="1.5" stroke-dasharray="1.5 1.5" stroke-linejoin="round"/>
<text x="180.71" y="557.20" font-size="15.6" font-weight="bold" textLength="49.81" lengthAdjust="spacingAndGlyphs" fill="#000">15 MV</text>
<text transform="translate(14.90,721.43) rotate(-90)" x="0" y="0" font-size="15.6" font-weight="bold" textLength="100.86" lengthAdjust="spacingAndGlyphs">Relative Dose</text>
<text x="157.35" y="787.60" font-size="15.6" font-weight="bold" textLength="95.21" lengthAdjust="spacingAndGlyphs" fill="#000">Depth (mm)</text>
<line x1="110.20" y1="668.30" x2="150.90" y2="668.30" stroke="#000" stroke-width="2.0" />
<text x="162.62" y="672.94" font-size="13.5" font-weight="normal" textLength="63.81" lengthAdjust="spacingAndGlyphs" fill="#000" stroke="#000" stroke-width="0.25">No device</text>
<line x1="110.20" y1="691.00" x2="150.90" y2="691.00" stroke="#000" stroke-width="1.8" stroke-dasharray="6 4.6"/>
<text x="162.61" y="695.64" font-size="13.5" font-weight="normal" textLength="124.65" lengthAdjust="spacingAndGlyphs" fill="#000" stroke="#000" stroke-width="0.25">Device powered on</text>
<line x1="110.20" y1="714.10" x2="150.90" y2="714.10" stroke="#000" stroke-width="1.5" stroke-dasharray="1.5 1.5"/>
<text x="162.60" y="718.74" font-size="13.5" font-weight="normal" textLength="125.39" lengthAdjust="spacingAndGlyphs" fill="#000" stroke="#000" stroke-width="0.25">Device powered off</text>
<line x1="427.80" y1="10.00" x2="427.80" y2="201.50" stroke="#111" stroke-width="1.25" />
<line x1="422.80" y1="196.50" x2="706.68" y2="196.50" stroke="#111" stroke-width="1.25" />
<line x1="422.80" y1="196.50" x2="427.80" y2="196.50" stroke="#111" stroke-width="1.25" />
<text x="404.00" y="201.42" font-size="14.3" font-weight="normal" textLength="12.72" lengthAdjust="spacingAndGlyphs" fill="#000" stroke="#000" stroke-width="0.25">-2</text>
<line x1="422.80" y1="179.55" x2="427.80" y2="179.55" stroke="#111" stroke-width="1.25" />
<text x="408.61" y="184.46" font-size="14.3" font-weight="normal" textLength="7.95" lengthAdjust="spacingAndGlyphs" fill="#000" stroke="#000" stroke-width="0.25">0</text>
<line x1="422.80" y1="162.59" x2="427.80" y2="162.59" stroke="#111" stroke-width="1.25" />
<text x="408.76" y="167.51" font-size="14.3" font-weight="normal" textLength="7.95" lengthAdjust="spacingAndGlyphs" fill="#000" stroke="#000" stroke-width="0.25">2</text>
<line x1="422.80" y1="145.64" x2="427.80" y2="145.64" stroke="#111" stroke-width="1.25" />
<text x="408.46" y="150.56" font-size="14.3" font-weight="normal" textLength="7.95" lengthAdjust="spacingAndGlyphs" fill="#000" stroke="#000" stroke-width="0.25">4</text>
<line x1="422.80" y1="128.68" x2="427.80" y2="128.68" stroke="#111" stroke-width="1.25" />
<text x="408.68" y="133.60" font-size="14.3" font-weight="normal" textLength="7.95" lengthAdjust="spacingAndGlyphs" fill="#000" stroke="#000" stroke-width="0.25">6</text>
<line x1="422.80" y1="111.73" x2="427.80" y2="111.73" stroke="#111" stroke-width="1.25" />
<text x="408.66" y="116.65" font-size="14.3" font-weight="normal" textLength="7.95" lengthAdjust="spacingAndGlyphs" fill="#000" stroke="#000" stroke-width="0.25">8</text>
<line x1="422.80" y1="94.77" x2="427.80" y2="94.77" stroke="#111" stroke-width="1.25" />
<text x="400.66" y="99.69" font-size="14.3" font-weight="normal" textLength="15.91" lengthAdjust="spacingAndGlyphs" fill="#000" stroke="#000" stroke-width="0.25">10</text>
<line x1="422.80" y1="77.82" x2="427.80" y2="77.82" stroke="#111" stroke-width="1.25" />
<text x="400.81" y="82.74" font-size="14.3" font-weight="normal" textLength="15.91" lengthAdjust="spacingAndGlyphs" fill="#000" stroke="#000" stroke-width="0.25">12</text>
<line x1="422.80" y1="60.86" x2="427.80" y2="60.86" stroke="#111" stroke-width="1.25" />
<text x="400.51" y="65.78" font-size="14.3" font-weight="normal" textLength="15.91" lengthAdjust="spacingAndGlyphs" fill="#000" stroke="#000" stroke-width="0.25">14</text>
<line x1="422.80" y1="43.91" x2="427.80" y2="43.91" stroke="#111" stroke-width="1.25" />
<text x="400.73" y="48.83" font-size="14.3" font-weight="normal" textLength="15.91" lengthAdjust="spacingAndGlyphs" fill="#000" stroke="#000" stroke-width="0.25">16</text>
<line x1="422.80" y1="26.95" x2="427.80" y2="26.95" stroke="#111" stroke-width="1.25" />
<text x="400.71" y="31.87" font-size="14.3" font-weight="normal" textLength="15.91" lengthAdjust="spacingAndGlyphs" fill="#000" stroke="#000" stroke-width="0.25">18</text>
<line x1="422.80" y1="10.00" x2="427.80" y2="10.00" stroke="#111" stroke-width="1.25" />
<text x="400.66" y="14.92" font-size="14.3" font-weight="normal" textLength="15.91" lengthAdjust="spacingAndGlyphs" fill="#000" stroke="#000" stroke-width="0.25">20</text>
<line x1="544.00" y1="196.50" x2="544.00" y2="201.50" stroke="#111" stroke-width="1.25" />
<line x1="660.20" y1="196.50" x2="660.20" y2="201.50" stroke="#111" stroke-width="1.25" />
<text x="423.82" y="218.90" font-size="14.3" font-weight="normal" textLength="7.95" lengthAdjust="spacingAndGlyphs" fill="#000" stroke="#000" stroke-width="0.25">0</text>
<text x="536.04" y="218.90" font-size="14.3" font-weight="normal" textLength="15.91" lengthAdjust="spacingAndGlyphs" fill="#000" stroke="#000" stroke-width="0.25">50</text>
<text x="648.01" y="218.90" font-size="14.3" font-weight="normal" textLength="23.86" lengthAdjust="spacingAndGlyphs" fill="#000" stroke="#000" stroke-width="0.25">100</text>
<path d="M427.80,140.55 L428.38,144.67 L428.96,147.30 L429.54,149.27 L430.12,151.07 L430.70,153.08 L431.29,155.09 L431.87,157.31 L432.45,160.41 L433.03,164.06 L433.61,166.30 L434.19,167.59 L434.77,168.33 L435.35,168.93 L435.93,169.41 L436.51,169.82 L437.10,170.18 L437.68,170.51 L438.26,170.85 L438.84,171.22 L439.42,171.55 L440.00,171.86 L440.58,172.15 L441.16,172.46 L441.74,172.79 L442.32,173.19 L442.91,173.70 L443.49,174.30 L444.07,174.94 L444.65,175.57 L445.23,176.14 L445.81,176.61 L446.39,176.93 L446.97,177.08 L447.55,177.18 L448.13,177.26 L448.72,177.33 L449.30,177.40 L449.88,177.47 L450.46,177.57 L451.04,177.67 L451.62,177.77 L452.20,177.87 L452.78,177.98 L453.36,178.10 L453.94,178.22 L454.53,178.36 L455.11,178.50 L455.69,178.65 L456.27,178.82 L456.85,179.00 L457.43,179.20 L458.01,179.41 L458.59,179.65 L459.17,179.91 L459.75,180.26 L460.34,180.76 L460.92,181.33 L461.50,181.88 L462.08,182.32 L462.66,182.57 L463.24,182.57 L463.82,182.43 L464.40,182.21 L464.98,181.92 L465.56,181.60 L466.15,181.29 L466.73,181.02 L467.31,180.83 L467.89,180.74 L468.47,180.76 L469.05,180.86 L469.63,181.03 L470.21,181.28 L470.79,181.59 L471.38,181.96 L471.96,182.39 L472.54,182.88 L475.21,182.31 L477.53,180.84 L479.86,180.99 L482.18,182.91 L484.51,182.67 L486.83,182.92 L489.15,181.72 L491.48,182.40 L493.80,181.52 L496.13,184.11 L498.45,180.62 L500.77,182.45 L503.10,181.59 L505.42,182.49 L507.75,182.76 L510.07,181.83 L512.39,181.43 L514.72,182.57 L517.04,182.51 L519.37,181.59 L521.69,183.30 L524.01,184.01 L526.34,181.91 L528.66,183.08 L530.99,184.11 L533.31,183.24 L535.63,182.86 L537.96,183.66 L540.28,183.99 L542.61,182.30 L544.93,181.35 L547.25,182.60 L549.58,183.16 L551.90,181.92 L554.23,181.55 L556.55,182.67 L558.87,181.74 L561.20,181.19 L563.52,182.57 L565.85,183.24 L568.17,181.96 L570.49,182.07 L572.82,181.13 L575.14,183.76 L577.47,183.07 L579.79,183.27 L582.11,184.11 L584.44,182.20 L586.76,181.76 L589.09,183.16 L591.41,180.82 L593.73,181.44 L596.06,181.65 L598.38,181.90 L600.71,181.29 L603.03,183.81 L605.35,181.67 L607.68,181.68 L610.00,184.11 L612.33,181.96 L614.65,182.62 L616.97,181.48 L619.30,182.83 L621.62,182.36 L623.95,181.97 L626.27,183.31 L628.59,181.68 L630.92,182.46 L633.24,181.80 L635.57,182.92 L637.89,181.15 L640.21,181.68 L642.54,182.54 L644.86,181.65 L647.19,180.95 L649.51,180.58 L651.83,184.08 L654.16,181.37 L656.48,181.83 L658.81,182.45 L661.13,183.45 L663.45,180.96 L665.78,183.73 L668.10,181.72 L670.43,180.91 L672.75,184.11 L675.07,182.68 L677.40,183.79 L679.72,182.07 L682.05,180.67 L684.37,180.58 L686.69,184.11 L689.02,182.98 L691.34,181.57 L693.67,180.60 L695.99,181.88 L698.31,183.17 L700.64,182.02 L702.96,182.36 L705.29,182.57" fill="none" stroke="#000" stroke-width="1.6" stroke-dasharray="6 4.6" stroke-linejoin="round"/>
<path d="M427.80,117.66 L428.38,118.84 L428.96,120.20 L429.54,121.67 L430.12,123.25 L430.70,124.94 L431.29,126.72 L431.87,128.59 L432.45,130.60 L433.03,132.79 L433.61,135.21 L434.19,138.17 L434.77,141.46 L435.35,144.44 L435.93,147.28 L436.51,149.95 L437.10,152.33 L437.68,154.45 L438.26,156.40 L438.84,158.20 L439.42,159.88 L440.00,161.44 L440.58,162.93 L441.16,164.34 L441.74,165.65 L442.32,166.87 L442.91,168.00 L443.49,169.06 L444.07,170.06 L444.65,170.99 L445.23,171.86 L445.81,172.67 L446.39,173.45 L446.97,174.21 L447.55,174.91 L448.13,175.51 L448.72,175.99 L449.30,176.35 L449.88,176.68 L450.46,176.97 L451.04,177.22 L451.62,177.46 L452.20,177.68 L452.78,177.89 L453.36,178.10 L453.94,178.29 L454.53,178.45 L455.11,178.60 L455.69,178.74 L456.27,178.89 L456.85,179.05 L457.43,179.23 L458.01,179.45 L458.59,179.73 L459.17,180.14 L459.75,180.66 L460.34,181.20 L460.92,181.72 L461.50,182.16 L462.08,182.45 L462.66,182.58 L463.24,182.69 L463.82,182.79 L464.40,182.89 L464.98,182.97 L465.56,183.05 L466.15,183.12 L466.73,183.18 L467.31,183.23 L467.89,183.28 L468.47,183.31 L469.05,183.34 L469.63,183.35 L470.21,183.36 L472.65,184.21 L474.98,183.14 L477.30,183.45 L479.63,183.47 L481.95,182.58 L484.27,185.43 L486.60,184.85 L488.92,185.55 L491.25,184.32 L493.57,183.19 L495.89,184.23 L498.22,183.70 L500.54,185.84 L502.87,184.06 L505.19,185.13 L507.51,182.58 L509.84,183.31 L512.16,183.24 L514.49,184.27 L516.81,183.58 L519.13,183.54 L521.46,184.56 L523.78,184.71 L526.11,184.32 L528.43,184.82 L530.75,184.81 L533.08,184.50 L535.40,184.95 L537.73,183.43 L540.05,185.83 L542.37,183.37 L544.70,184.84 L547.02,184.76 L549.35,185.58 L551.67,184.35 L553.99,184.46 L556.32,184.01 L558.64,184.75 L560.97,184.11 L563.29,182.58 L565.61,183.79 L567.94,184.79 L570.26,183.24 L572.59,184.34 L574.91,183.60 L577.23,183.58 L579.56,184.61 L581.88,185.84 L584.21,184.56 L586.53,183.65 L588.85,184.59 L591.18,183.76 L593.50,183.21 L595.83,184.76 L598.15,182.96 L600.47,182.58 L602.80,183.11 L605.12,183.02 L607.45,183.09 L609.77,182.58 L612.09,184.02 L614.42,184.21 L616.74,183.59 L619.07,185.13 L621.39,185.79 L623.71,185.11 L626.04,183.83 L628.36,183.73 L630.69,185.77 L633.01,185.84 L635.33,184.53 L637.66,184.40 L639.98,184.26 L642.31,183.52 L644.63,182.96 L646.95,183.97 L649.28,183.58 L651.60,185.32 L653.93,185.40 L656.25,183.97 L658.57,183.53 L660.90,183.47 L663.22,183.60 L665.55,183.41 L667.87,183.38 L670.19,185.84 L672.52,184.95 L674.84,183.74 L677.17,183.60 L679.49,185.75 L681.81,183.01 L684.14,184.65 L686.46,184.44 L688.79,183.93 L691.11,183.45 L693.43,185.67 L695.76,183.20 L698.08,184.13 L700.41,184.99 L702.73,184.49 L705.05,185.84" fill="none" stroke="#000" stroke-width="1.5" stroke-dasharray="1.5 1.5" stroke-linejoin="round"/>
<text x="546.65" y="17.30" font-size="15.6" font-weight="bold" textLength="40.77" lengthAdjust="spacingAndGlyphs" fill="#000">6 MV</text>
<text transform="translate(386.70,145.21) rotate(-90)" x="0" y="0" font-size="15.6" font-weight="bold" textLength="78.86" lengthAdjust="spacingAndGlyphs">Δ Dose (%)</text>
<text x="524.76" y="242.70" font-size="15.6" font-weight="bold" textLength="94.70" lengthAdjust="spacingAndGlyphs" fill="#000">Depth (mm)</text>
<line x1="517.20" y1="102.60" x2="558.20" y2="102.60" stroke="#000" stroke-width="1.8" stroke-dasharray="6 4.6"/>
<text x="564.61" y="107.24" font-size="13.5" font-weight="normal" textLength="124.65" lengthAdjust="spacingAndGlyphs" fill="#000" stroke="#000" stroke-width="0.25">Device powered on</text>
<line x1="517.20" y1="128.90" x2="558.20" y2="128.90" stroke="#000" stroke-width="1.5" stroke-dasharray="1.5 1.5"/>
<text x="564.60" y="133.54" font-size="13.5" font-weight="normal" textLength="125.39" lengthAdjust="spacingAndGlyphs" fill="#000" stroke="#000" stroke-width="0.25">Device powered off</text>
<line x1="427.80" y1="278.90" x2="427.80" y2="470.60" stroke="#111" stroke-width="1.25" />
<line x1="422.80" y1="465.60" x2="706.68" y2="465.60" stroke="#111" stroke-width="1.25" />
<line x1="422.80" y1="465.60" x2="427.80" y2="465.60" stroke="#111" stroke-width="1.25" />
<text x="404.00" y="470.52" font-size="14.3" font-weight="normal" textLength="12.72" lengthAdjust="spacingAndGlyphs" fill="#000" stroke="#000" stroke-width="0.25">-2</text>
<line x1="422.80" y1="448.63" x2="427.80" y2="448.63" stroke="#111" stroke-width="1.25" />
<text x="408.61" y="453.55" font-size="14.3" font-weight="normal" textLength="7.95" lengthAdjust="spacingAndGlyphs" fill="#000" stroke="#000" stroke-width="0.25">0</text>
<line x1="422.80" y1="431.65" x2="427.80" y2="431.65" stroke="#111" stroke-width="1.25" />
<text x="408.76" y="436.57" font-size="14.3" font-weight="normal" textLength="7.95" lengthAdjust="spacingAndGlyphs" fill="#000" stroke="#000" stroke-width="0.25">2</text>
<line x1="422.80" y1="414.68" x2="427.80" y2="414.68" stroke="#111" stroke-width="1.25" />
<text x="408.46" y="419.60" font-size="14.3" font-weight="normal" textLength="7.95" lengthAdjust="spacingAndGlyphs" fill="#000" stroke="#000" stroke-width="0.25">4</text>
<line x1="422.80" y1="397.71" x2="427.80" y2="397.71" stroke="#111" stroke-width="1.25" />
<text x="408.68" y="402.63" font-size="14.3" font-weight="normal" textLength="7.95" lengthAdjust="spacingAndGlyphs" fill="#000" stroke="#000" stroke-width="0.25">6</text>
<line x1="422.80" y1="380.74" x2="427.80" y2="380.74" stroke="#111" stroke-width="1.25" />
<text x="408.66" y="385.66" font-size="14.3" font-weight="normal" textLength="7.95" lengthAdjust="spacingAndGlyphs" fill="#000" stroke="#000" stroke-width="0.25">8</text>
<line x1="422.80" y1="363.76" x2="427.80" y2="363.76" stroke="#111" stroke-width="1.25" />
<text x="400.66" y="368.68" font-size="14.3" font-weight="normal" textLength="15.91" lengthAdjust="spacingAndGlyphs" fill="#000" stroke="#000" stroke-width="0.25">10</text>
<line x1="422.80" y1="346.79" x2="427.80" y2="346.79" stroke="#111" stroke-width="1.25" />
<text x="400.81" y="351.71" font-size="14.3" font-weight="normal" textLength="15.91" lengthAdjust="spacingAndGlyphs" fill="#000" stroke="#000" stroke-width="0.25">12</text>
<line x1="422.80" y1="329.82" x2="427.80" y2="329.82" stroke="#111" stroke-width="1.25" />
<text x="400.51" y="334.74" font-size="14.3" font-weight="normal" textLength="15.91" lengthAdjust="spacingAndGlyphs" fill="#000" stroke="#000" stroke-width="0.25">14</text>
<line x1="422.80" y1="312.85" x2="427.80" y2="312.85" stroke="#111" stroke-width="1.25" />
<text x="400.73" y="317.76" font-size="14.3" font-weight="normal" textLength="15.91" lengthAdjust="spacingAndGlyphs" fill="#000" stroke="#000" stroke-width="0.25">16</text>
<line x1="422.80" y1="295.87" x2="427.80" y2="295.87" stroke="#111" stroke-width="1.25" />
<text x="400.71" y="300.79" font-size="14.3" font-weight="normal" textLength="15.91" lengthAdjust="spacingAndGlyphs" fill="#000" stroke="#000" stroke-width="0.25">18</text>
<line x1="422.80" y1="278.90" x2="427.80" y2="278.90" stroke="#111" stroke-width="1.25" />
<text x="400.66" y="283.82" font-size="14.3" font-weight="normal" textLength="15.91" lengthAdjust="spacingAndGlyphs" fill="#000" stroke="#000" stroke-width="0.25">20</text>
<line x1="544.00" y1="465.60" x2="544.00" y2="470.60" stroke="#111" stroke-width="1.25" />
<line x1="660.20" y1="465.60" x2="660.20" y2="470.60" stroke="#111" stroke-width="1.25" />
<text x="423.82" y="489.20" font-size="14.3" font-weight="normal" textLength="7.95" lengthAdjust="spacingAndGlyphs" fill="#000" stroke="#000" stroke-width="0.25">0</text>
<text x="536.04" y="489.20" font-size="14.3" font-weight="normal" textLength="15.91" lengthAdjust="spacingAndGlyphs" fill="#000" stroke="#000" stroke-width="0.25">50</text>
<text x="648.01" y="489.20" font-size="14.3" font-weight="normal" textLength="23.86" lengthAdjust="spacingAndGlyphs" fill="#000" stroke="#000" stroke-width="0.25">100</text>
<path d="M427.80,395.16 L428.38,413.34 L428.96,419.19 L429.54,421.81 L430.12,423.82 L430.70,426.68 L431.29,430.00 L431.87,436.06 L432.45,441.99 L433.03,444.12 L433.61,445.13 L434.19,445.79 L434.77,446.19 L435.35,446.23 L435.93,446.05 L436.51,445.77 L437.10,445.48 L437.68,445.27 L438.26,445.23 L438.84,445.23 L439.42,445.23 L440.00,445.23 L440.58,445.23 L441.16,445.23 L441.74,445.23 L442.32,445.23 L442.91,445.23 L443.49,445.23 L444.07,445.23 L444.65,445.25 L445.23,445.35 L445.81,445.52 L446.39,445.72 L446.97,445.92 L447.55,446.10 L448.13,446.23 L448.72,446.31 L449.30,446.36 L449.88,446.40 L450.46,446.44 L451.04,446.47 L451.62,446.50 L452.20,446.54 L452.78,446.58 L453.36,446.64 L453.94,446.71 L454.53,446.82 L455.11,447.15 L455.69,447.62 L456.27,448.13 L456.85,448.53 L457.43,448.73 L458.01,448.84 L458.59,448.93 L459.17,449.01 L459.75,449.08 L460.34,449.14 L460.92,449.18 L461.50,449.21 L462.08,449.22 L462.66,449.18 L463.24,449.04 L463.82,448.82 L464.40,448.54 L464.98,448.22 L465.56,447.91 L466.15,447.61 L466.73,447.36 L467.31,447.18 L467.89,447.10 L468.47,447.19 L469.05,447.50 L469.63,447.98 L470.21,448.57 L470.79,449.21 L471.38,449.83 L471.96,450.37 L472.54,450.77 L473.12,450.99 L473.70,451.16 L474.28,451.32 L474.86,451.47 L475.44,451.61 L476.02,451.73 L476.60,451.85 L477.19,451.95 L477.77,452.03 L478.35,452.10 L478.93,452.15 L479.51,452.18 L480.09,452.19 L482.41,450.82 L484.74,454.08 L487.06,451.47 L489.39,452.38 L491.71,451.10 L494.03,452.05 L496.36,450.82 L498.68,452.41 L501.01,452.97 L503.33,451.85 L505.65,452.01 L507.98,452.81 L510.30,452.70 L512.63,451.71 L514.95,451.73 L517.27,452.95 L519.60,452.82 L521.92,454.08 L524.25,450.82 L526.57,452.67 L528.89,451.08 L531.22,452.02 L533.54,450.82 L535.87,450.88 L538.19,452.12 L540.51,450.94 L542.84,453.41 L545.16,451.16 L547.49,453.95 L549.81,452.10 L552.13,451.36 L554.46,452.22 L556.78,452.82 L559.11,453.27 L561.43,452.80 L563.75,451.38 L566.08,451.54 L568.40,452.71 L570.73,453.72 L573.05,451.76 L575.37,453.92 L577.70,452.99 L580.02,453.19 L582.35,451.69 L584.67,452.21 L586.99,451.98 L589.32,452.17 L591.64,453.14 L593.97,451.90 L596.29,451.01 L598.61,452.48 L600.94,451.80 L603.26,452.57 L605.59,451.40 L607.91,451.77 L610.23,451.55 L612.56,452.09 L614.88,450.82 L617.21,452.81 L619.53,452.79 L621.85,453.05 L624.18,451.82 L626.50,453.08 L628.83,453.10 L631.15,451.71 L633.47,451.26 L635.80,451.86 L638.12,454.08 L640.45,453.42 L642.77,453.54 L645.09,453.68 L647.42,452.86 L649.74,450.82 L652.07,452.76 L654.39,453.20 L656.71,451.73 L659.04,452.38 L661.36,452.32 L663.69,453.15 L666.01,452.45 L668.33,452.00 L670.66,454.08 L672.98,454.08 L675.31,451.34 L677.63,451.59 L679.95,452.96 L682.28,453.49 L684.60,452.64 L686.93,453.66 L689.25,452.79 L691.57,450.82 L693.90,452.31 L696.22,451.26 L698.55,452.67 L700.87,452.07 L703.19,451.03 L705.52,453.81" fill="none" stroke="#000" stroke-width="1.6" stroke-dasharray="6 4.6" stroke-linejoin="round"/>
<path d="M427.80,387.53 L428.38,392.45 L428.96,398.66 L429.54,404.00 L430.12,407.89 L430.70,411.23 L431.29,414.45 L431.87,417.69 L432.45,420.72 L433.03,423.25 L433.61,425.27 L434.19,427.06 L434.77,428.67 L435.35,430.08 L435.93,431.33 L436.51,432.44 L437.10,433.47 L437.68,434.42 L438.26,435.29 L438.84,436.08 L439.42,436.81 L440.00,437.47 L440.58,438.08 L441.16,438.66 L441.74,439.20 L442.32,439.72 L442.91,440.20 L443.49,440.64 L444.07,441.05 L444.65,441.42 L445.23,441.75 L445.81,442.05 L446.39,442.33 L446.97,442.59 L447.55,442.83 L448.13,443.05 L448.72,443.26 L449.30,443.45 L449.88,443.63 L450.46,443.80 L451.04,443.94 L451.62,444.06 L452.20,444.18 L452.78,444.30 L453.36,444.43 L453.94,444.60 L454.53,444.83 L455.11,445.19 L455.69,445.68 L456.27,446.23 L456.85,446.78 L457.43,447.28 L458.01,447.67 L458.59,447.93 L459.17,448.17 L459.75,448.40 L460.34,448.61 L460.92,448.81 L461.50,448.97 L462.08,449.10 L462.66,449.18 L463.24,449.22 L463.82,449.16 L464.40,448.95 L464.98,448.62 L465.56,448.24 L466.15,447.85 L466.73,447.49 L467.31,447.23 L467.89,447.10 L468.47,447.12 L469.05,447.20 L469.63,447.34 L470.21,447.54 L470.79,447.80 L471.38,448.13 L471.96,448.52 L472.54,448.97 L473.12,449.49 L473.70,450.07 L474.28,450.71 L474.86,451.42 L475.44,452.19 L477.77,451.91 L480.09,453.61 L482.41,454.22 L484.74,454.25 L487.06,452.98 L489.39,451.35 L491.71,452.58 L494.03,452.09 L496.36,451.57 L498.68,453.51 L501.01,450.99 L503.33,453.51 L505.65,452.24 L507.98,450.99 L510.30,452.73 L512.63,452.50 L514.95,453.14 L517.27,452.28 L519.60,454.25 L521.92,453.27 L524.25,450.99 L526.57,452.40 L528.89,452.86 L531.22,452.24 L533.54,452.19 L535.87,452.46 L538.19,452.03 L540.51,454.25 L542.84,452.01 L545.16,453.30 L547.49,451.82 L549.81,452.64 L552.13,453.63 L554.46,452.69 L556.78,453.64 L559.11,451.58 L561.43,452.64 L563.75,451.75 L566.08,453.75 L568.40,450.99 L570.73,452.92 L573.05,451.23 L575.37,451.75 L577.70,453.74 L580.02,452.29 L582.35,453.17 L584.67,452.20 L586.99,451.16 L589.32,451.91 L591.64,451.53 L593.97,453.81 L596.29,452.41 L598.61,452.25 L600.94,451.51 L603.26,453.25 L605.59,452.04 L607.91,452.18 L610.23,454.17 L612.56,453.67 L614.88,452.16 L617.21,453.81 L619.53,453.87 L621.85,451.70 L624.18,452.33 L626.50,452.86 L628.83,452.51 L631.15,453.03 L633.47,453.16 L635.80,453.08 L638.12,452.22 L640.45,451.27 L642.77,453.10 L645.09,452.69 L647.42,452.84 L649.74,453.90 L652.07,452.36 L654.39,451.73 L656.71,453.48 L659.04,451.77 L661.36,453.20 L663.69,451.44 L666.01,451.38 L668.33,453.01 L670.66,454.25 L672.98,452.97 L675.31,454.03 L677.63,453.95 L679.95,452.87 L682.28,451.23 L684.60,452.71 L686.93,452.84 L689.25,454.25 L691.57,453.23 L693.90,454.04 L696.22,452.09 L698.55,453.15 L700.87,452.66 L703.19,452.63 L705.52,452.81" fill="none" stroke="#000" stroke-width="1.5" stroke-dasharray="1.5 1.5" stroke-linejoin="round"/>
<text x="541.91" y="286.00" font-size="15.6" font-weight="bold" textLength="50.12" lengthAdjust="spacingAndGlyphs" fill="#000">10 MV</text>
<text transform="translate(386.70,414.32) rotate(-90)" x="0" y="0" font-size="15.6" font-weight="bold" textLength="79.16" lengthAdjust="spacingAndGlyphs">Δ Dose (%)</text>
<text x="530.76" y="515.20" font-size="15.6" font-weight="bold" textLength="94.90" lengthAdjust="spacingAndGlyphs" fill="#000">Depth (mm)</text>
<line x1="525.20" y1="360.80" x2="566.20" y2="360.80" stroke="#000" stroke-width="1.8" stroke-dasharray="6 4.6"/>
<text x="572.71" y="365.44" font-size="13.5" font-weight="normal" textLength="124.65" lengthAdjust="spacingAndGlyphs" fill="#000" stroke="#000" stroke-width="0.25">Device powered on</text>
<line x1="525.20" y1="387.00" x2="566.20" y2="387.00" stroke="#000" stroke-width="1.5" stroke-dasharray="1.5 1.5"/>
<text x="572.70" y="391.64" font-size="13.5" font-weight="normal" textLength="125.39" lengthAdjust="spacingAndGlyphs" fill="#000" stroke="#000" stroke-width="0.25">Device powered off</text>
<line x1="427.80" y1="550.60" x2="427.80" y2="742.20" stroke="#111" stroke-width="1.25" />
<line x1="422.80" y1="737.20" x2="706.68" y2="737.20" stroke="#111" stroke-width="1.25" />
<line x1="422.80" y1="737.20" x2="427.80" y2="737.20" stroke="#111" stroke-width="1.25" />
<text x="404.00" y="742.12" font-size="14.3" font-weight="normal" textLength="12.72" lengthAdjust="spacingAndGlyphs" fill="#000" stroke="#000" stroke-width="0.25">-2</text>
<line x1="422.80" y1="720.24" x2="427.80" y2="720.24" stroke="#111" stroke-width="1.25" />
<text x="408.61" y="725.16" font-size="14.3" font-weight="normal" textLength="7.95" lengthAdjust="spacingAndGlyphs" fill="#000" stroke="#000" stroke-width="0.25">0</text>
<line x1="422.80" y1="703.27" x2="427.80" y2="703.27" stroke="#111" stroke-width="1.25" />
<text x="408.76" y="708.19" font-size="14.3" font-weight="normal" textLength="7.95" lengthAdjust="spacingAndGlyphs" fill="#000" stroke="#000" stroke-width="0.25">2</text>
<line x1="422.80" y1="686.31" x2="427.80" y2="686.31" stroke="#111" stroke-width="1.25" />
<text x="408.46" y="691.23" font-size="14.3" font-weight="normal" textLength="7.95" lengthAdjust="spacingAndGlyphs" fill="#000" stroke="#000" stroke-width="0.25">4</text>
<line x1="422.80" y1="669.35" x2="427.80" y2="669.35" stroke="#111" stroke-width="1.25" />
<text x="408.68" y="674.26" font-size="14.3" font-weight="normal" textLength="7.95" lengthAdjust="spacingAndGlyphs" fill="#000" stroke="#000" stroke-width="0.25">6</text>
<line x1="422.80" y1="652.38" x2="427.80" y2="652.38" stroke="#111" stroke-width="1.25" />
<text x="408.66" y="657.30" font-size="14.3" font-weight="normal" textLength="7.95" lengthAdjust="spacingAndGlyphs" fill="#000" stroke="#000" stroke-width="0.25">8</text>
<line x1="422.80" y1="635.42" x2="427.80" y2="635.42" stroke="#111" stroke-width="1.25" />
<text x="400.66" y="640.34" font-size="14.3" font-weight="normal" textLength="15.91" lengthAdjust="spacingAndGlyphs" fill="#000" stroke="#000" stroke-width="0.25">10</text>
<line x1="422.80" y1="618.45" x2="427.80" y2="618.45" stroke="#111" stroke-width="1.25" />
<text x="400.81" y="623.37" font-size="14.3" font-weight="normal" textLength="15.91" lengthAdjust="spacingAndGlyphs" fill="#000" stroke="#000" stroke-width="0.25">12</text>
<line x1="422.80" y1="601.49" x2="427.80" y2="601.49" stroke="#111" stroke-width="1.25" />
<text x="400.51" y="606.41" font-size="14.3" font-weight="normal" textLength="15.91" lengthAdjust="spacingAndGlyphs" fill="#000" stroke="#000" stroke-width="0.25">14</text>
<line x1="422.80" y1="584.53" x2="427.80" y2="584.53" stroke="#111" stroke-width="1.25" />
<text x="400.73" y="589.45" font-size="14.3" font-weight="normal" textLength="15.91" lengthAdjust="spacingAndGlyphs" fill="#000" stroke="#000" stroke-width="0.25">16</text>
<line x1="422.80" y1="567.56" x2="427.80" y2="567.56" stroke="#111" stroke-width="1.25" />
<text x="400.71" y="572.48" font-size="14.3" font-weight="normal" textLength="15.91" lengthAdjust="spacingAndGlyphs" fill="#000" stroke="#000" stroke-width="0.25">18</text>
<line x1="422.80" y1="550.60" x2="427.80" y2="550.60" stroke="#111" stroke-width="1.25" />
<text x="400.66" y="555.52" font-size="14.3" font-weight="normal" textLength="15.91" lengthAdjust="spacingAndGlyphs" fill="#000" stroke="#000" stroke-width="0.25">20</text>
<line x1="544.00" y1="737.20" x2="544.00" y2="742.20" stroke="#111" stroke-width="1.25" />
<line x1="660.20" y1="737.20" x2="660.20" y2="742.20" stroke="#111" stroke-width="1.25" />
<text x="423.82" y="760.80" font-size="14.3" font-weight="normal" textLength="7.95" lengthAdjust="spacingAndGlyphs" fill="#000" stroke="#000" stroke-width="0.25">0</text>
<text x="536.04" y="760.80" font-size="14.3" font-weight="normal" textLength="15.91" lengthAdjust="spacingAndGlyphs" fill="#000" stroke="#000" stroke-width="0.25">50</text>
<text x="648.01" y="760.80" font-size="14.3" font-weight="normal" textLength="23.86" lengthAdjust="spacingAndGlyphs" fill="#000" stroke="#000" stroke-width="0.25">100</text>
<path d="M427.80,638.81 L428.38,640.20 L428.96,641.64 L429.54,643.11 L430.12,644.62 L430.70,646.14 L431.29,647.63 L431.87,649.16 L432.45,650.84 L433.03,652.81 L433.61,655.29 L434.19,658.14 L434.77,661.11 L435.35,664.33 L435.93,667.69 L436.51,670.90 L437.10,673.90 L437.68,676.75 L438.26,679.11 L438.84,681.15 L439.42,682.99 L440.00,684.67 L440.58,686.22 L441.16,687.66 L441.74,688.96 L442.32,690.15 L442.91,691.28 L443.49,692.44 L444.07,693.60 L444.65,694.74 L445.23,695.85 L445.81,696.91 L446.39,697.90 L446.97,698.79 L447.55,699.65 L448.13,700.53 L448.72,701.51 L449.30,702.57 L449.88,703.64 L450.46,704.64 L451.04,705.52 L451.62,706.23 L452.20,706.87 L452.78,707.45 L453.36,707.98 L453.94,708.48 L454.53,708.97 L455.11,709.44 L455.69,709.88 L456.27,710.31 L456.85,710.72 L457.43,711.13 L458.01,711.52 L458.59,711.90 L459.17,712.27 L459.75,712.65 L460.34,713.04 L460.92,713.42 L461.50,713.82 L462.08,714.21 L462.66,714.59 L463.24,714.97 L463.82,715.35 L464.40,715.70 L464.98,716.05 L465.56,716.37 L466.15,716.67 L466.73,716.95 L467.31,717.20 L467.89,717.42 L468.47,717.61 L469.05,717.77 L469.63,717.92 L470.21,718.06 L470.79,718.19 L471.38,718.31 L471.96,718.42 L472.54,718.52 L473.12,718.62 L473.70,718.72 L474.28,718.81 L474.86,718.90 L475.44,718.98 L476.02,719.07 L476.60,719.16 L477.19,719.25 L477.77,719.35 L478.35,719.45 L478.93,719.56 L479.51,719.67 L480.09,719.79 L480.67,719.92 L481.25,720.07 L481.83,720.23 L482.41,720.40 L483.00,720.59 L483.58,720.78 L484.16,720.97 L484.74,721.17 L485.32,721.38 L485.90,721.58 L486.48,721.77 L487.06,721.97 L487.64,722.15 L488.22,722.32 L488.81,722.49 L489.39,722.63 L489.97,722.76 L490.55,722.88 L491.13,722.97 L491.71,723.05 L492.29,723.13 L492.87,723.21 L493.45,723.29 L494.03,723.36 L494.62,723.43 L495.20,723.49 L495.78,723.55 L496.36,723.60 L496.94,723.64 L497.52,723.67 L498.10,723.70 L498.68,723.71 L501.01,724.42 L503.33,724.00 L505.65,722.87 L507.98,723.65 L510.30,722.76 L512.63,722.52 L514.95,724.43 L517.27,722.34 L519.60,723.71 L521.92,721.85 L524.25,722.59 L526.57,723.66 L528.89,723.03 L531.22,723.02 L533.54,722.93 L535.87,722.02 L538.19,722.75 L540.51,721.85 L542.84,722.67 L545.16,723.36 L547.49,724.50 L549.81,724.53 L552.13,723.03 L554.46,722.62 L556.78,721.98 L559.11,723.73 L561.43,723.14 L563.75,723.89 L566.08,723.56 L568.40,724.56 L570.73,722.58 L573.05,723.82 L575.37,723.27 L577.70,722.83 L580.02,722.92 L582.35,724.32 L584.67,721.92 L586.99,722.56 L589.32,722.78 L591.64,723.76 L593.97,724.56 L596.29,724.56 L598.61,723.38 L600.94,723.07 L603.26,723.80 L605.59,721.85 L607.91,722.95 L610.23,722.36 L612.56,722.44 L614.88,724.11 L617.21,722.36 L619.53,722.82 L621.85,724.28 L624.18,722.59 L626.50,722.30 L628.83,722.38 L631.15,722.31 L633.47,724.40 L635.80,723.41 L638.12,723.67 L640.45,723.16 L642.77,723.11 L645.09,722.25 L647.42,722.57 L649.74,723.91 L652.07,722.44 L654.39,721.85 L656.71,722.95 L659.04,724.48 L661.36,723.75 L663.69,723.36 L666.01,724.56 L668.33,723.32 L670.66,724.28 L672.98,722.53 L675.31,722.62 L677.63,723.27 L679.95,724.27 L682.28,722.96 L684.60,723.75 L686.93,723.79 L689.25,722.26 L691.57,723.85 L693.90,724.37 L696.22,722.53 L698.55,721.85 L700.87,721.85 L703.19,722.54 L705.52,725.33" fill="none" stroke="#000" stroke-width="1.6" stroke-dasharray="6 4.6" stroke-linejoin="round"/>
<path d="M427.80,652.38 L428.38,655.83 L428.96,659.09 L429.54,662.07 L430.12,665.05 L430.70,668.29 L431.29,671.42 L431.87,674.37 L432.45,676.96 L433.03,679.30 L433.61,681.47 L434.19,683.51 L434.77,685.43 L435.35,687.31 L435.93,689.20 L436.51,691.01 L437.10,692.59 L437.68,693.93 L438.26,695.14 L438.84,696.27 L439.42,697.34 L440.00,698.39 L440.58,699.46 L441.16,700.52 L441.74,701.55 L442.32,702.52 L442.91,703.43 L443.49,704.26 L444.07,705.07 L444.65,705.84 L445.23,706.58 L445.81,707.28 L446.39,707.91 L446.97,708.49 L447.55,709.00 L448.13,709.46 L448.72,709.87 L449.30,710.26 L449.88,710.62 L450.46,710.97 L451.04,711.31 L451.62,711.64 L452.20,711.96 L452.78,712.27 L453.36,712.57 L453.94,712.86 L454.53,713.15 L455.11,713.43 L455.69,713.70 L456.27,713.97 L456.85,714.23 L457.43,714.49 L458.01,714.74 L458.59,715.00 L459.17,715.26 L459.75,715.52 L460.34,715.78 L460.92,716.03 L461.50,716.27 L462.08,716.51 L462.66,716.74 L463.24,716.95 L463.82,717.15 L464.40,717.33 L464.98,717.49 L465.56,717.63 L466.15,717.76 L466.73,717.88 L467.31,717.99 L467.89,718.10 L468.47,718.20 L469.05,718.29 L469.63,718.38 L470.21,718.46 L470.79,718.54 L471.38,718.62 L471.96,718.69 L472.54,718.77 L473.12,718.84 L473.70,718.91 L474.28,718.98 L474.86,719.05 L475.44,719.12 L476.02,719.20 L476.60,719.27 L477.19,719.35 L477.77,719.43 L478.35,719.52 L478.93,719.61 L479.51,719.71 L480.09,719.81 L480.67,719.92 L481.25,720.04 L481.83,720.17 L482.41,720.31 L483.00,720.45 L483.58,720.61 L484.16,720.76 L484.74,720.92 L485.32,721.08 L485.90,721.25 L486.48,721.41 L487.06,721.56 L487.64,721.72 L488.22,721.86 L488.81,722.00 L489.39,722.13 L489.97,722.25 L490.55,722.36 L491.13,722.46 L491.71,722.55 L492.29,722.65 L492.87,722.74 L493.45,722.83 L494.03,722.91 L494.62,723.00 L495.20,723.08 L495.78,723.15 L496.36,723.22 L496.94,723.29 L497.52,723.35 L498.10,723.41 L498.68,723.46 L501.01,723.88 L503.33,722.84 L505.65,722.49 L507.98,722.50 L510.30,722.02 L512.63,723.70 L514.95,722.91 L517.27,723.69 L519.60,724.58 L521.92,723.97 L524.25,723.26 L526.57,724.15 L528.89,723.54 L531.22,722.42 L533.54,722.89 L535.87,722.89 L538.19,723.08 L540.51,723.52 L542.84,724.73 L545.16,722.53 L547.49,724.65 L549.81,723.19 L552.13,723.47 L554.46,723.26 L556.78,723.16 L559.11,723.66 L561.43,722.61 L563.75,724.46 L566.08,722.70 L568.40,724.73 L570.73,722.37 L573.05,723.81 L575.37,723.06 L577.70,722.10 L580.02,724.73 L582.35,723.64 L584.67,722.89 L586.99,722.61 L589.32,722.22 L591.64,722.86 L593.97,722.94 L596.29,723.28 L598.61,723.15 L600.94,723.31 L603.26,722.53 L605.59,723.24 L607.91,722.81 L610.23,722.02 L612.56,722.38 L614.88,723.67 L617.21,723.46 L619.53,722.75 L621.85,723.92 L624.18,724.73 L626.50,724.23 L628.83,722.92 L631.15,723.55 L633.47,723.68 L635.80,722.74 L638.12,724.27 L640.45,722.02 L642.77,723.36 L645.09,723.65 L647.42,722.02 L649.74,724.30 L652.07,723.80 L654.39,723.45 L656.71,724.19 L659.04,723.66 L661.36,722.88 L663.69,723.23 L666.01,723.42 L668.33,722.54 L670.66,722.02 L672.98,722.05 L675.31,724.73 L677.63,722.21 L679.95,722.72 L682.28,723.03 L684.60,724.21 L686.93,723.76 L689.25,723.55 L691.57,724.56 L693.90,722.33 L696.22,722.62 L698.55,723.39 L700.87,724.18 L703.19,722.23 L705.52,725.33" fill="none" stroke="#000" stroke-width="1.5" stroke-dasharray="1.5 1.5" stroke-linejoin="round"/>
<text x="541.91" y="557.40" font-size="15.6" font-weight="bold" textLength="50.12" lengthAdjust="spacingAndGlyphs" fill="#000">15 MV</text>
<text transform="translate(386.70,685.91) rotate(-90)" x="0" y="0" font-size="15.6" font-weight="bold" textLength="78.66" lengthAdjust="spacingAndGlyphs">Δ Dose (%)</text>
<text x="529.66" y="787.60" font-size="15.6" font-weight="bold" textLength="94.19" lengthAdjust="spacingAndGlyphs" fill="#000">Depth (mm)</text>
<line x1="524.90" y1="629.30" x2="566.30" y2="629.30" stroke="#000" stroke-width="1.8" stroke-dasharray="6 4.6"/>
<text x="575.91" y="633.94" font-size="13.5" font-weight="normal" textLength="124.65" lengthAdjust="spacingAndGlyphs" fill="#000" stroke="#000" stroke-width="0.25">Device powered on</text>
<line x1="524.90" y1="655.30" x2="566.30" y2="655.30" stroke="#000" stroke-width="1.5" stroke-dasharray="1.5 1.5"/>
<text x="575.90" y="659.94" font-size="13.5" font-weight="normal" textLength="125.39" lengthAdjust="spacingAndGlyphs" fill="#000" stroke="#000" stroke-width="0.25">Device powered off</text>
</svg>
</body></html>
